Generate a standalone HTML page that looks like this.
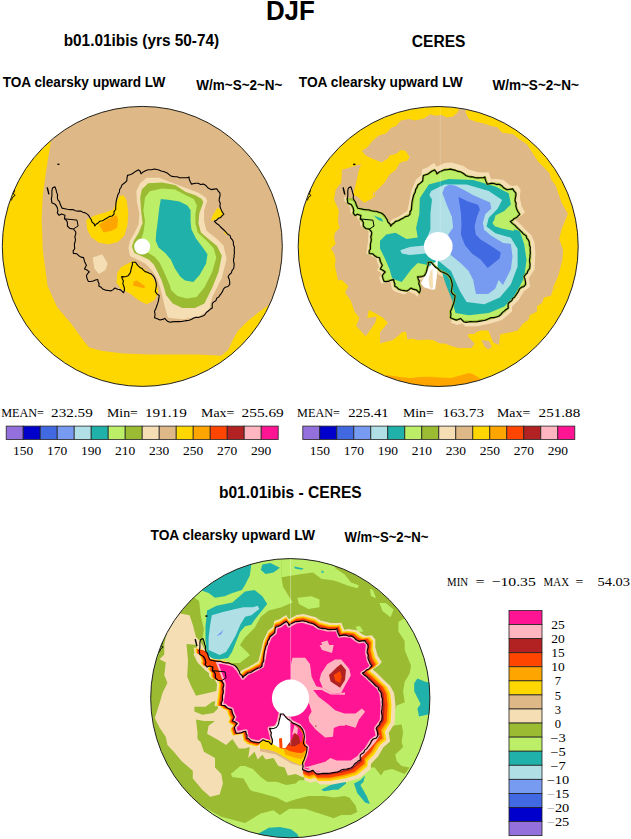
<!DOCTYPE html>
<html><head><meta charset="utf-8"><style>
html,body{margin:0;padding:0;background:#fff;width:631px;height:839px;overflow:hidden}
svg{display:block}
</style></head><body>
<svg width="631" height="839" viewBox="0 0 631 839">
<defs>
<clipPath id="cl"><circle cx="142.3" cy="246.4" r="140"/></clipPath>
<clipPath id="cr"><circle cx="438.2" cy="246.5" r="140"/></clipPath>
<clipPath id="cb"><circle cx="290.3" cy="698.2" r="139.6"/></clipPath>
</defs>
<g clip-path="url(#cl)">
<rect x="0" y="100" width="290" height="295" fill="#FFD700"/>
<path d="M51.0,141.6 48.7,154.7 46.4,168.9 42.8,195.1 41.6,218.9 42.8,250.0 47.5,285.7 57.0,307.0 71.3,323.7 83.2,340.3 89.1,347.5 102.2,351.0 123.6,353.4 150.0,354.6 197.5,354.6 221.3,355.8 228.4,349.8 232.0,341.5 238.0,330.8 247.5,321.3 259.3,311.8 290.0,290.0 290.0,90.0 30.0,90.0 30.0,130.0Z" fill="#DEB887" />
<path d="M86.3,219.7 95.8,215.0 105.4,212.6 113.3,209.4 116.5,202.3 119.6,196.0 123.6,195.2 126.8,200.7 128.3,213.4 127.5,224.5 124.4,235.6 118.0,241.9 108.5,244.3 99.0,242.7 91.1,237.2 87.1,229.2Z" fill="#FFD700" />
<path d="M99.0,224.5 106.9,219.7 116.5,215.0 118.0,219.7 117.2,227.7 111.7,230.8 103.8,232.4 100.6,227.7Z" fill="#FFA500" />
<path d="M127.5,263.8 133.8,260.7 141.4,267.3 150.9,274.0 155.7,282.5 157.7,288.0 158.4,292.3 154.5,300.2 146.6,304.2 138.6,300.2 130.7,293.9 121.2,289.1 116.5,282.8 117.2,273.3 121.2,266.9Z" fill="#FFD700" />
<path d="M133.8,281.6 137.1,280.6 145.7,286.8 143.3,288.2 132.9,285.4Z" fill="#FFA500" />
<path d="M92.7,257.4 102.2,254.3 107.7,263.8 105.4,270.1 99.0,274.1 94.3,268.5Z" fill="#F5DEB3" />
<path d="M217.5,207.8 222.3,211.0 223.1,215.8 214.4,219.7 211.2,221.3 212.0,216.6Z" fill="#FFD700" />
<path d="M224.5,230.5 227.0,233.0 226.5,235.0 224.0,232.5Z" fill="#FFD700" />
<path d="M146.6,177.7 159.2,177.7 170.0,182.0 185.8,188.0 198.5,192.8 205.7,197.5 207.2,200.7 204.1,210.2 204.1,221.3 206.5,230.8 217.0,239.0 223.5,245.5 226.6,259.0 221.8,278.0 212.3,297.1 209.1,309.7 199.6,316.1 183.8,319.2 167.9,317.7 164.8,306.6 162.0,295.0 160.4,288.2 157.6,279.7 153.8,273.0 149.0,267.3 145.2,263.5 137.6,259.7 130.0,255.9 128.5,248.0 130.0,240.7 133.9,234.0 138.6,224.5 139.4,213.4 137.0,202.3 136.3,191.2 140.2,183.3Z" fill="#F5DEB3" />
<path d="M148.1,183.3 162.4,182.5 175.0,185.0 185.8,192.0 195.4,195.2 201.7,199.1 203.3,202.3 199.3,213.4 198.5,222.9 200.9,232.4 210.0,240.3 217.0,246.0 221.8,255.8 218.6,271.7 212.3,287.5 204.4,303.4 194.9,308.1 182.2,308.1 172.7,303.4 166.0,295.0 164.2,288.2 161.4,279.7 157.6,272.1 153.8,264.5 149.0,259.7 142.4,256.4 134.3,253.1 131.9,246.4 133.8,240.7 138.6,233.0 142.6,222.9 141.0,210.2 140.2,197.5 141.8,189.6Z" fill="#9ABB32" />
<path d="M149.7,191.2 162.4,188.5 175.0,189.5 185.8,195.2 193.8,199.1 196.9,205.5 195.4,213.4 195.4,222.9 197.7,232.4 207.0,241.0 213.5,248.0 216.3,257.4 212.3,271.7 204.4,287.5 196.5,297.1 186.9,298.6 177.4,296.0 171.0,290.0 169.9,285.4 166.1,276.8 162.8,269.2 159.5,262.6 154.7,256.9 148.5,253.1 140.0,245.0 140.2,241.9 143.4,232.4 145.0,221.3 143.4,210.2 145.0,197.5Z" fill="#BCEE68" />
<path d="M160.8,199.1 170.0,200.0 179.5,201.5 187.4,205.5 190.6,210.2 190.6,221.3 191.4,229.2 196.1,238.7 202.0,246.5 207.5,254.3 206.0,263.8 199.6,274.9 193.3,282.0 185.1,280.6 180.4,276.8 174.7,268.3 170.9,259.7 165.2,253.1 158.5,247.4 155.7,240.7 156.1,234.0 157.7,221.3 159.2,208.6Z" fill="#20B2AA" />
<circle cx="142.2" cy="246.6" r="8" fill="#fff"/>
<path d="M54.9,186.7 56.0,189.6 56.7,192.6 57.6,194.9 57.3,197.4 57.9,199.8 59.6,201.9 60.3,204.6 62.0,208.1 64.7,208.7 67.4,209.3 70.1,209.6 72.9,209.6 75.4,210.7 78.1,211.1 80.7,211.1 82.9,212.2 85.3,212.9 87.3,214.1 88.8,215.7 90.0,217.7 91.3,219.7 92.0,222.1 94.1,223.7 94.8,226.0 96.1,224.2 98.1,223.0 99.6,221.3 102.7,220.7 105.4,218.9 107.6,217.8 109.7,216.4 112.2,216.0 114.1,214.2 114.0,211.7 115.7,209.5 115.7,207.0 115.9,204.4 116.1,201.9 116.6,199.3 117.3,196.9 118.0,194.4 119.4,192.2 119.6,189.5 121.1,187.3 122.0,184.9 124.5,183.0 126.8,180.9 127.0,178.1 127.5,175.4 129.9,174.7 132.3,173.8 135.5,171.4 138.6,169.8 140.3,171.5 141.0,173.8 143.1,171.9 145.5,170.8 148.1,169.8 151.3,169.7 154.5,169.0 156.7,169.5 159.0,170.0 161.1,171.0 163.4,171.5 165.6,172.2 168.0,173.6 170.0,175.4 172.3,176.4 174.7,176.8 177.2,176.8 179.5,177.7 182.1,177.8 184.8,177.7 187.4,177.7 189.0,176.9 189.3,179.5 190.3,181.8 191.4,184.1 195.4,183.3 198.1,183.3 200.6,184.5 203.3,184.1 206.0,185.6 208.0,188.0 211.2,189.6 214.0,189.1 216.8,188.8 218.1,191.0 219.9,192.8 220.1,195.5 219.4,198.1 219.1,200.7 220.3,203.2 219.9,206.0 220.7,208.6 222.0,211.6 223.9,214.2 222.2,215.7 220.7,217.4 218.3,218.3 216.6,220.2 214.4,221.3 216.6,223.5 219.1,225.3 220.6,227.0 222.2,228.5 223.9,230.0 225.5,231.6 227.5,234.0 230.2,235.6 230.7,238.0 232.4,239.8 233.4,241.9 233.4,244.6 234.5,247.2 234.2,250.0 234.5,252.7 234.1,254.9 234.1,257.2 233.5,259.4 233.6,261.7 234.2,264.0 234.0,266.3 233.7,268.5 232.1,270.4 231.4,272.9 229.5,274.5 228.1,276.5 229.1,279.0 229.7,281.7 229.7,284.4 228.0,286.5 225.3,287.2 223.4,289.1 222.6,291.4 221.3,293.3 219.9,295.2 218.6,297.1 216.7,298.3 215.9,300.7 213.9,301.9 212.3,303.4 212.2,305.8 212.3,308.1 210.1,309.3 208.2,311.0 206.3,312.5 204.9,314.7 202.8,316.1 200.6,316.8 198.4,317.5 196.0,317.4 193.7,318.0 191.7,319.2 189.3,320.2 186.7,320.6 184.1,321.0 181.6,321.5 179.0,321.6 176.8,321.6 174.6,321.5 172.3,321.9 170.1,322.3 167.9,321.6 166.3,320.1 164.8,318.4 162.5,319.4 160.0,320.0 157.3,318.8 154.5,317.7 155.1,314.5 154.5,311.3 155.8,308.8 156.7,306.0 157.7,303.4 158.4,300.8 158.9,298.2 159.2,295.5 156.8,293.9 155.3,291.5 156.1,287.5 156.4,284.8 156.0,282.2 155.3,279.6 154.4,277.5 153.0,275.7 151.3,274.1 149.3,273.2 147.3,272.2 145.1,271.6 143.4,270.1 142.0,268.4 139.8,267.4 138.2,265.8 136.8,264.1 135.5,262.2 132.3,262.2 132.4,264.5 131.7,266.8 131.1,269.0 130.7,271.5 129.8,273.7 128.2,275.7 126.1,276.5 123.9,276.9 121.6,276.6 122.3,278.8 123.4,281.0 122.8,283.6 123.7,285.8 124.4,288.0 124.4,290.5 123.5,292.8 120.6,289.9 117.6,289.3 114.9,288.0 113.1,289.6 111.1,290.9 108.2,290.5 105.3,290.1 102.6,289.0 101.0,287.2 98.8,286.1 99.1,283.8 98.1,281.7 97.8,279.5 95.4,280.0 93.2,281.0 90.8,281.5 88.3,281.4 87.1,278.6 86.4,275.7 87.6,273.6 89.3,271.9 87.1,270.1 84.5,269.0 86.4,265.2 84.5,261.4 83.6,257.6 81.0,257.1 78.8,255.7 76.9,253.8 73.4,253.4 73.1,250.9 74.7,248.7 74.5,246.3 74.4,243.8 75.2,241.5 75.4,239.1 74.8,236.7 75.7,234.4 75.8,232.0 73.4,229.0 69.8,228.4 67.4,226.0 67.4,222.4 66.4,220.2 64.4,218.9 65.0,215.3 61.5,214.1 59.1,215.3 57.3,212.9 57.9,210.5 57.2,207.4 55.5,204.6 51.9,202.8 51.3,198.6 51.9,196.2 51.9,193.8 51.9,190.8 52.5,187.9Z" fill="none" stroke="#000" stroke-width="1.1" stroke-linejoin="round"/>
<path d="M65.0,218.9 L77.0,220.1 L78.1,226.0 L73.4,229.0" fill="none" stroke="#000" stroke-width="1"/>
<path d="M47.2,187.3 L48.9,194.4" fill="none" stroke="#000" stroke-width="1.4"/>
<ellipse cx="58.4" cy="164.3" rx="1.3" ry="0.8" fill="#000"/>
<path d="M14.8,190.0 L13.3,194.0 L15.2,195.3 L12.8,197.0 L11.3,200.5" fill="none" stroke="#000" stroke-width="0.9"/>
</g>
<circle cx="142.3" cy="246.4" r="140" fill="none" stroke="#222" stroke-width="1"/>
<g clip-path="url(#cr)">
<rect x="290" y="100" width="300" height="295" fill="#FFD700"/>
<path d="M386.0,375.0 390.4,375.5 400.0,377.0 410.7,378.0 420.0,377.0 431.0,376.8 440.0,377.5 451.3,378.0 460.0,375.5 469.0,373.0 474.0,374.5 479.2,378.0 484.0,381.0 484.0,396.0 386.0,396.0Z" fill="#FFA500" />
<path d="M342.0,169.7 348.3,168.1 357.8,165.0 361.0,164.2 358.6,171.3 356.2,182.4 353.1,195.1 357.0,196.3 364.1,202.7 370.5,199.5 375.2,196.3 373.7,190.0 372.1,200.0 375.2,191.9 384.7,182.4 389.5,174.5 396.0,169.7 399.2,163.4 402.3,161.8 407.1,161.0 409.5,157.1 405.5,150.7 400.8,149.9 396.0,153.9 389.5,155.5 387.9,158.6 381.6,162.6 372.1,158.6 365.7,155.5 361.8,150.7 367.3,147.5 372.1,141.2 378.4,135.7 386.3,133.3 391.1,127.7 396.0,126.1 400.8,120.6 408.7,119.0 415.0,120.6 424.5,118.2 430.1,114.3 435.6,115.8 442.0,115.1 446.7,117.4 453.1,116.6 457.8,111.9 462.6,100.0 466.0,100.0 465.7,112.7 468.9,119.0 475.2,121.4 484.7,123.8 491.1,126.1 497.1,126.9 501.8,132.5 512.9,134.1 517.7,138.0 527.2,144.4 532.0,152.3 538.3,161.8 544.6,168.1 549.4,172.9 551.0,179.2 555.7,185.6 558.9,195.1 561.6,202.7 567.9,213.8 561.6,229.6 559.2,239.1 563.2,250.2 562.4,259.7 558.4,275.6 552.1,290.0 561.4,283.5 552.7,290.5 551.0,295.7 544.0,297.4 542.2,302.7 537.0,306.2 537.0,311.4 530.0,314.9 528.3,320.1 523.1,323.6 517.8,330.6 510.9,332.3 500.4,334.0 498.7,344.5 493.4,342.8 488.2,330.6 481.2,330.6 476.0,332.3 474.7,333.9 468.4,333.9 468.4,337.1 474.7,343.4 471.6,348.1 458.9,348.1 452.6,346.6 444.6,343.4 439.9,343.4 433.5,340.2 427.2,339.4 417.7,340.2 412.1,338.6 407.4,339.4 405.8,331.5 401.8,332.3 398.7,335.5 392.3,340.2 386.0,341.8 380.0,343.4 380.0,332.3 387.9,322.8 383.2,318.0 376.8,314.1 368.9,310.1 367.3,318.0 376.8,316.5 375.2,322.8 365.7,336.3 356.2,326.0 359.4,318.0 354.6,311.7 350.7,300.6 345.1,292.7 348.3,286.3 342.0,280.0 338.0,280.3 336.4,272.4 334.8,266.1 335.6,259.7 334.0,253.4 330.9,248.6 335.6,243.9 334.0,237.5 334.8,232.8 339.6,228.0 338.0,221.7 338.8,210.6 334.0,199.5 335.6,190.0 341.2,182.4Z" fill="#DEB887" />
<path d="M481.5,340.0 489.0,341.0 492.0,347.0 488.0,349.5 484.0,346.0Z" fill="#DEB887" />
<path d="M494.0,340.0 499.0,340.0 499.5,345.0 496.5,344.0Z" fill="#DEB887" />
<path d="M344.0,197.0 344.0,197.0 344.6,201.3 344.6,201.3 344.6,201.4 347.9,203.0 348.0,203.1 348.0,203.1 348.1,203.2 348.2,203.2 348.2,203.3 348.3,203.4 348.3,203.4 350.5,209.0 350.5,209.1 350.5,209.1 350.5,209.2 350.5,209.3 350.5,209.4 350.5,209.5 350.0,211.7 350.0,211.7 350.0,211.7 351.8,214.2 351.8,214.2 351.8,214.2 353.9,213.1 353.9,213.0 354.0,213.0 354.1,213.0 354.2,213.0 354.3,213.0 354.3,213.0 354.4,213.0 354.5,213.0 357.0,213.9 357.1,213.9 357.2,213.9 357.2,214.0 357.3,214.0 357.4,214.1 357.4,214.2 357.5,214.2 357.5,214.3 357.5,214.4 357.5,214.4 357.6,214.5 357.6,214.6 357.6,214.7 357.6,214.8 357.1,217.8 357.1,217.9 357.1,217.9 359.9,221.2 359.9,221.3 360.0,221.4 360.0,221.4 360.0,221.5 360.1,221.6 360.1,221.7 360.1,221.8 360.1,225.2 360.1,225.2 360.1,225.2 362.5,227.7 362.5,227.7 362.5,227.7 365.8,228.2 365.8,228.3 365.9,228.3 366.0,228.3 366.1,228.3 366.1,228.4 366.2,228.4 366.2,228.5 366.3,228.5 368.3,231.2 368.4,231.2 368.4,231.3 368.4,231.4 368.5,231.5 368.5,231.5 368.5,231.6 368.5,231.7 368.0,241.3 368.0,241.4 366.2,253.8 366.2,253.8 366.2,253.8 369.4,254.2 369.5,254.2 369.5,254.3 369.6,254.3 369.7,254.3 369.8,254.4 369.8,254.4 369.9,254.5 371.5,256.2 371.5,256.3 371.6,256.3 375.9,258.1 376.0,258.2 376.1,258.2 376.1,258.3 376.2,258.3 376.2,258.4 376.3,258.4 376.3,258.5 376.4,258.6 376.4,258.6 376.4,258.7 377.2,262.3 377.2,262.3 377.2,262.4 378.9,266.0 378.9,266.1 379.0,266.2 379.0,266.3 379.0,266.3 379.0,266.4 379.0,266.5 379.0,266.6 378.9,266.7 378.9,266.7 377.2,270.3 377.2,270.4 377.2,270.4 381.3,273.1 381.3,273.1 381.4,273.2 381.5,273.2 381.5,273.3 381.5,273.4 381.6,273.4 381.6,273.5 381.6,273.6 381.6,273.6 381.6,273.7 381.6,273.8 381.6,273.9 381.6,274.0 381.6,274.0 381.6,274.1 381.5,274.2 381.5,274.2 379.1,277.5 379.1,277.5 379.1,277.5 381.1,283.5 381.1,283.5 381.1,283.5 389.8,282.0 389.9,282.0 390.0,282.0 390.1,282.0 390.2,282.0 390.2,282.0 390.3,282.1 390.4,282.1 390.4,282.2 390.5,282.2 390.6,282.3 390.6,282.3 390.7,282.4 390.7,282.4 390.7,282.5 390.8,282.6 390.8,282.7 391.8,288.8 391.8,288.9 391.8,288.9 395.7,292.0 395.7,292.1 395.8,292.1 404.6,294.5 404.6,294.5 404.6,294.4 408.1,291.9 408.2,291.9 408.2,291.8 408.3,291.8 408.4,291.8 408.5,291.8 408.6,291.8 408.6,291.8 408.7,291.8 408.8,291.8 408.9,291.8 414.4,293.9 414.4,293.9 414.5,294.0 414.6,294.0 414.7,294.1 417.7,297.1 417.7,297.1 417.7,297.1 418.5,292.2 418.5,292.2 418.5,292.2 415.4,281.2 415.4,281.1 415.4,281.0 415.3,280.9 415.4,280.8 415.4,280.8 415.4,280.7 415.4,280.6 415.5,280.5 415.5,280.5 415.5,280.4 415.6,280.4 415.7,280.3 415.7,280.3 415.8,280.2 415.9,280.2 415.9,280.2 416.0,280.1 416.1,280.1 422.2,279.8 422.2,279.8 422.2,279.8 425.0,273.1 425.0,273.1 425.0,273.0 425.8,266.7 425.8,266.6 425.8,266.6 425.9,266.5 425.9,266.4 426.0,266.4 426.0,266.3 426.1,266.2 426.1,266.2 426.2,266.1 426.3,266.1 426.3,266.1 426.4,266.0 426.5,266.0 426.6,266.0 426.6,266.0 426.7,266.0 429.4,266.4 429.5,266.4 429.5,266.4 429.6,266.5 429.7,266.5 429.7,266.5 429.8,266.6 439.5,275.2 439.5,275.2 439.6,275.2 448.6,278.9 448.6,278.9 448.7,279.0 448.8,279.0 448.8,279.1 448.9,279.1 452.9,284.2 452.9,284.2 453.0,284.3 453.0,284.4 453.0,284.4 453.0,284.5 453.0,284.6 453.6,292.2 453.6,292.3 453.6,292.4 453.6,292.5 452.6,296.4 452.6,296.4 452.6,296.4 456.4,300.0 456.4,300.1 456.5,300.1 456.5,300.2 456.6,300.3 456.6,300.3 456.6,300.4 456.6,300.5 456.6,300.5 456.6,300.6 456.6,300.7 456.6,300.8 454.9,308.2 454.9,308.3 454.9,308.4 451.3,316.3 451.3,316.3 451.3,316.3 451.2,322.7 451.2,322.7 451.3,322.7 457.1,325.0 457.1,325.0 457.1,325.0 461.7,323.4 461.8,323.4 461.9,323.4 462.0,323.4 462.0,323.4 462.1,323.4 462.2,323.4 462.3,323.4 462.3,323.5 462.4,323.5 462.5,323.6 462.5,323.6 465.4,326.4 465.4,326.4 465.4,326.4 477.1,326.2 477.1,326.2 477.1,326.2 490.4,323.4 490.4,323.4 502.0,320.0 502.0,320.0 502.0,320.0 511.9,311.5 512.0,311.5 512.0,311.5 512.1,307.0 512.1,306.9 512.1,306.8 512.1,306.8 512.1,306.7 512.2,306.6 512.2,306.5 512.2,306.5 512.3,306.4 518.6,300.0 518.7,300.0 518.7,299.9 523.6,291.7 523.7,291.6 523.7,291.5 523.8,291.5 523.8,291.4 530.2,286.5 530.2,286.5 530.2,286.5 528.8,278.6 528.8,278.5 528.8,278.4 528.8,278.3 528.8,278.3 528.8,278.2 528.8,278.1 528.9,278.1 528.9,278.0 534.4,269.8 534.5,269.8 534.5,269.8 535.4,253.2 535.4,253.1 535.4,253.1 535.1,250.3 535.1,250.3 534.4,241.8 534.4,241.8 534.3,241.7 531.2,235.1 531.2,235.1 531.2,235.1 526.6,230.8 526.5,230.8 520.2,224.0 520.1,224.0 516.2,220.3 516.1,220.3 516.1,220.2 516.0,220.1 516.0,220.1 516.0,220.0 516.0,219.9 515.9,219.9 515.9,219.8 515.9,219.7 515.9,219.6 516.0,219.5 516.0,219.5 516.0,219.4 516.0,219.3 516.1,219.3 516.1,219.2 516.2,219.2 516.2,219.1 516.3,219.1 521.7,215.6 521.7,215.6 521.7,215.6 524.9,212.3 524.9,212.3 524.9,212.3 521.7,206.4 521.6,206.3 521.6,206.2 521.6,206.2 519.9,198.0 519.9,197.9 519.9,197.9 519.9,197.8 520.5,189.6 520.5,189.6 520.5,189.6 517.3,185.3 517.3,185.3 517.3,185.3 511.9,185.9 511.8,185.9 511.7,185.9 511.6,185.9 511.6,185.9 511.5,185.9 511.4,185.8 508.4,184.2 508.3,184.2 508.3,184.1 503.4,179.9 503.4,179.9 503.4,179.9 495.3,178.7 495.2,178.7 495.2,178.7 491.8,179.3 491.7,179.3 491.6,179.3 491.5,179.3 491.4,179.3 491.4,179.2 491.3,179.2 491.2,179.2 491.2,179.1 491.1,179.1 491.0,179.0 491.0,179.0 491.0,178.9 490.9,178.8 490.9,178.7 488.4,171.8 488.4,171.8 488.4,171.8 486.9,172.5 486.8,172.5 486.8,172.5 486.7,172.6 486.6,172.6 486.5,172.6 478.5,172.2 478.4,172.2 478.3,172.2 468.4,169.5 468.3,169.4 468.3,169.4 468.2,169.4 468.2,169.3 463.5,166.0 463.5,166.0 463.5,166.0 451.5,162.4 451.5,162.4 451.4,162.4 444.5,163.0 444.5,163.0 444.5,163.0 437.4,166.6 437.3,166.7 437.3,166.7 437.2,166.7 437.1,166.7 437.0,166.7 437.0,166.7 436.9,166.7 436.8,166.7 436.7,166.7 436.7,166.6 436.6,166.6 436.5,166.6 436.5,166.5 436.4,166.4 436.4,166.4 434.2,163.1 434.2,163.1 434.2,163.1 430.8,164.9 430.8,164.9 430.8,164.9 427.4,167.4 427.3,167.5 427.3,167.5 427.2,167.5 422.1,169.4 422.1,169.4 422.1,169.4 421.3,174.8 421.3,174.8 421.3,174.9 421.3,175.0 421.2,175.1 421.2,175.1 421.1,175.2 421.1,175.2 416.1,179.5 416.1,179.5 416.1,179.5 411.7,189.7 411.6,189.7 411.6,189.7 409.0,203.2 409.0,203.2 407.3,210.8 407.2,210.9 407.2,210.9 407.2,211.0 407.1,211.1 407.1,211.1 407.0,211.2 407.0,211.2 406.9,211.3 398.3,216.7 398.2,216.7 392.3,219.5 392.3,219.5 392.3,219.6 388.2,223.9 388.2,224.0 388.1,224.0 388.0,224.1 388.0,224.1 387.9,224.1 387.8,224.1 387.7,224.2 387.7,224.2 387.6,224.2 387.5,224.1 387.4,224.1 387.3,224.1 387.3,224.1 387.2,224.0 387.1,224.0 387.1,223.9 387.0,223.9 387.0,223.8 386.9,223.7 382.7,216.1 382.7,216.0 382.7,216.0 378.0,211.2 378.0,211.1 378.0,211.1 370.8,209.4 370.8,209.4 360.1,207.8 360.1,207.8 355.1,206.7 355.0,206.7 354.9,206.7 354.8,206.7 354.8,206.6 354.7,206.6 354.6,206.5 354.6,206.4 354.6,206.4 354.5,206.3 353.0,203.1 353.0,203.1 350.6,198.2 350.6,198.1 350.6,198.1 344.0,197.0Z" fill="#F5DEB3"/>
<path d="M353.8,199.9 356.2,204.7 357.9,208.2 363.3,209.4 374.0,211.2 381.2,213.0 385.9,217.8 390.7,226.1 395.5,221.4 401.3,219.0 410.0,214.3 411.6,207.1 413.9,194.5 417.9,185.0 422.7,181.0 423.4,175.5 428.2,173.9 431.4,171.5 434.5,169.9 436.9,173.9 444.0,169.9 450.4,169.1 461.5,172.3 465.9,175.5 475.4,177.8 483.3,177.8 484.9,177.0 487.3,184.2 491.3,183.4 499.2,184.2 503.9,188.1 507.1,189.7 512.7,188.9 515.8,192.9 515.0,200.8 516.6,208.7 519.8,214.3 516.6,217.5 510.3,221.4 515.0,225.4 521.4,231.7 526.1,235.7 529.3,242.0 530.1,250.1 530.4,252.8 529.6,268.6 524.0,276.6 525.6,284.5 519.3,289.2 514.5,297.2 508.2,303.5 508.2,308.2 498.7,316.2 487.6,319.3 474.9,321.7 463.8,321.7 460.7,318.5 455.9,320.1 450.4,317.8 450.4,311.4 453.6,303.5 455.1,295.6 451.2,291.6 452.0,287.6 451.2,279.7 447.2,274.2 439.3,270.2 431.4,262.3 428.2,262.3 427.0,269.1 424.1,275.8 417.5,276.7 420.3,288.1 419.4,292.9 416.5,290.0 410.8,288.1 407.0,291.0 398.5,289.1 394.7,286.2 393.7,279.6 384.2,281.5 382.3,275.8 385.2,272.0 380.4,269.1 382.3,265.3 380.4,261.5 379.5,257.7 374.7,255.8 372.8,253.9 369.3,253.5 371.1,241.6 371.7,232.1 369.3,229.1 365.7,228.5 363.3,226.1 363.3,222.5 360.3,219.0 360.9,215.4 357.4,214.2 355.0,215.4 353.2,213.0 353.8,210.6 351.4,204.7 347.8,202.9 347.2,198.7Z" fill="#BCEE68" />
<path d="M419.8,198.3 428.8,184.4 448.8,178.9 473.2,180.0 495.4,186.6 508.7,193.3 510.9,204.4 504.3,211.0 495.4,215.5 493.2,224.3 504.3,226.6 519.8,231.0 524.2,244.3 526.5,259.8 524.2,277.6 515.4,295.3 504.3,306.4 488.8,313.1 468.8,315.3 455.5,313.1 452.0,300.0 446.0,285.0 441.5,270.8 425.6,264.5 417.7,262.9 411.4,269.2 401.8,281.9 392.3,278.7 389.5,269.2 384.7,258.1 380.0,248.6 380.0,240.7 386.3,234.4 395.5,232.8 406.6,239.1 417.7,237.5 416.1,228.0 419.3,213.8Z" fill="#20B2AA" />
<path d="M373.7,215.4 381.6,218.5 383.2,221.7 378.4,220.1Z" fill="#20B2AA" />
<path d="M492.4,222.7 497.2,216.7 504.4,212.0 512.0,210.0 514.0,231.0 502.0,228.6 494.8,226.3Z" fill="#BCEE68" />
<path d="M429.3,195.1 431.1,191.1 444.4,184.4 466.6,184.4 488.8,191.1 502.1,199.9 497.6,208.8 488.8,217.7 486.5,226.6 495.4,233.2 510.9,237.7 517.6,248.8 517.6,266.5 510.9,284.3 499.8,297.6 484.3,304.2 466.6,302.0 459.9,290.9 451.0,270.9 439.9,262.0 432.0,258.0 425.6,253.4 409.8,255.0 401.8,253.4 400.3,250.2 409.8,247.1 424.0,245.5 430.4,229.6 430.4,213.8 432.0,199.5Z" fill="#B0E0E6" />
<path d="M442.4,192.9 444.8,186.9 449.5,184.5 455.5,185.7 465.0,190.5 473.4,195.3 490.1,202.4 491.3,208.4 485.3,214.3 482.9,222.7 484.1,229.8 491.3,235.8 503.2,242.9 510.9,243.9 512.5,256.6 510.9,269.2 503.0,285.1 498.7,280.0 495.2,288.7 488.2,293.9 476.0,293.9 474.7,287.9 473.2,280.0 468.4,270.8 460.5,262.9 452.6,256.6 450.7,254.9 448.3,234.6 453.1,227.4 451.9,216.7 447.2,206.0Z" fill="#789BF2" />
<path d="M458.5,197.0 467.4,201.2 478.1,204.8 479.9,209.6 476.9,216.7 474.6,226.3 475.8,234.6 480.5,239.4 490.0,245.3 500.8,252.5 499.6,258.4 487.7,268.0 480.5,259.6 472.2,253.7 465.0,245.3 460.9,234.6 461.5,225.1 460.9,213.1Z" fill="#4169E1" />
<circle cx="438.3" cy="246.3" r="14.3" fill="#fff"/>
<path d="M435.8,255.0 438.0,255.0 437.5,268.2 436.7,277.7 435.1,289.6 431.1,289.6 424.0,287.2 420.9,283.3 428.8,267.4 432.0,263.5 435.8,262.0Z" fill="#FFFFFF" />
<path d="M430.5,271.0 432.5,269.0 433.0,288.0 430.0,289.0 428.5,280.0Z" fill="#F5DEB3" />
<path d="M353.8,199.9 356.2,204.7 357.9,208.2 363.3,209.4 374.0,211.2 381.2,213.0 385.9,217.8 390.7,226.1 395.5,221.4 401.3,219.0 410.0,214.3 411.6,207.1 413.9,194.5 417.9,185.0 422.7,181.0 423.4,175.5 428.2,173.9 431.4,171.5 434.5,169.9 436.9,173.9 444.0,169.9 450.4,169.1 461.5,172.3 465.9,175.5 475.4,177.8 483.3,177.8 484.9,177.0 487.3,184.2 491.3,183.4 499.2,184.2 503.9,188.1 507.1,189.7 512.7,188.9 515.8,192.9 515.0,200.8 516.6,208.7 519.8,214.3 516.6,217.5 510.3,221.4 515.0,225.4 521.4,231.7 526.1,235.7 529.3,242.0 530.1,250.1 530.4,252.8 529.6,268.6 524.0,276.6 525.6,284.5 519.3,289.2 514.5,297.2 508.2,303.5 508.2,308.2 498.7,316.2 487.6,319.3 474.9,321.7 463.8,321.7 460.7,318.5 455.9,320.1 450.4,317.8 450.4,311.4 453.6,303.5 455.1,295.6 451.2,291.6 452.0,287.6 451.2,279.7 447.2,274.2 439.3,270.2 431.4,262.3 428.2,262.3 427.0,269.1 424.1,275.8 417.5,276.7 420.3,288.1 419.4,292.9 416.5,290.0 410.8,288.1 407.0,291.0 398.5,289.1 394.7,286.2 393.7,279.6 384.2,281.5 382.3,275.8 385.2,272.0 380.4,269.1 382.3,265.3 380.4,261.5 379.5,257.7 374.7,255.8 372.8,253.9 369.3,253.5 371.1,241.6 371.7,232.1 369.3,229.1 365.7,228.5 363.3,226.1 363.3,222.5 360.3,219.0 360.9,215.4 357.4,214.2 355.0,215.4 353.2,213.0 353.8,210.6 351.4,204.7 347.8,202.9 347.2,198.7Z" fill="none" stroke="#9ABB32" stroke-width="2.2" stroke-linejoin="round"/>
<path d="M350.8,186.8 351.9,189.7 352.6,192.7 353.5,195.0 353.2,197.5 353.8,199.9 355.5,202.0 356.2,204.7 357.9,208.2 360.6,208.8 363.3,209.4 366.0,209.7 368.8,209.7 371.3,210.8 374.0,211.2 376.6,211.2 378.8,212.3 381.2,213.0 383.2,214.2 384.7,215.8 385.9,217.8 387.2,219.8 387.9,222.2 390.0,223.8 390.7,226.1 392.0,224.3 394.0,223.1 395.5,221.4 398.6,220.8 401.3,219.0 403.5,217.9 405.6,216.5 408.1,216.1 410.0,214.3 409.9,211.8 411.6,209.6 411.6,207.1 411.8,204.5 412.0,202.0 412.5,199.4 413.2,197.0 413.9,194.5 415.3,192.3 415.5,189.6 417.0,187.4 417.9,185.0 420.4,183.1 422.7,181.0 422.9,178.2 423.4,175.5 425.8,174.8 428.2,173.9 431.4,171.5 434.5,169.9 436.2,171.6 436.9,173.9 439.0,172.0 441.4,170.9 444.0,169.9 447.2,169.8 450.4,169.1 452.6,169.6 454.9,170.1 457.0,171.1 459.3,171.6 461.5,172.3 463.9,173.7 465.9,175.5 468.2,176.5 470.6,176.9 473.1,176.9 475.4,177.8 478.0,177.9 480.7,177.8 483.3,177.8 484.9,177.0 485.2,179.6 486.2,181.9 487.3,184.2 491.3,183.4 494.0,183.4 496.5,184.6 499.2,184.2 501.9,185.7 503.9,188.1 507.1,189.7 509.9,189.2 512.7,188.9 514.0,191.1 515.8,192.9 516.0,195.6 515.3,198.2 515.0,200.8 516.2,203.3 515.8,206.1 516.6,208.7 517.9,211.7 519.8,214.3 518.1,215.8 516.6,217.5 514.2,218.4 512.5,220.3 510.3,221.4 512.5,223.6 515.0,225.4 516.5,227.1 518.1,228.6 519.8,230.1 521.4,231.7 523.4,234.1 526.1,235.7 526.6,238.1 528.3,239.9 529.3,242.0 529.3,244.7 530.4,247.3 530.1,250.1 530.4,252.8 530.0,255.0 530.0,257.3 529.4,259.5 529.5,261.8 530.1,264.1 529.9,266.4 529.6,268.6 528.0,270.5 527.3,273.0 525.4,274.6 524.0,276.6 525.0,279.1 525.6,281.8 525.6,284.5 523.9,286.6 521.2,287.3 519.3,289.2 518.5,291.5 517.2,293.4 515.8,295.3 514.5,297.2 512.6,298.4 511.8,300.8 509.8,302.0 508.2,303.5 508.1,305.9 508.2,308.2 506.0,309.4 504.1,311.1 502.2,312.6 500.8,314.8 498.7,316.2 496.5,316.9 494.3,317.6 491.9,317.5 489.6,318.1 487.6,319.3 485.2,320.3 482.6,320.7 480.0,321.1 477.5,321.6 474.9,321.7 472.7,321.7 470.5,321.6 468.2,322.0 466.0,322.4 463.8,321.7 462.2,320.2 460.7,318.5 458.4,319.5 455.9,320.1 453.2,318.9 450.4,317.8 451.0,314.6 450.4,311.4 451.7,308.9 452.6,306.1 453.6,303.5 454.3,300.9 454.8,298.3 455.1,295.6 452.7,294.0 451.2,291.6 452.0,287.6 452.3,284.9 451.9,282.3 451.2,279.7 450.3,277.6 448.9,275.8 447.2,274.2 445.2,273.3 443.2,272.3 441.0,271.7 439.3,270.2 437.9,268.5 435.7,267.5 434.1,265.9 432.7,264.2 431.4,262.3 428.2,262.3 428.3,264.6 427.6,266.9 427.0,269.1 426.6,271.6 425.7,273.8 424.1,275.8 422.0,276.6 419.8,277.0 417.5,276.7 418.2,278.9 419.3,281.1 418.7,283.7 419.6,285.9 420.3,288.1 420.3,290.6 419.4,292.9 416.5,290.0 413.5,289.4 410.8,288.1 409.0,289.7 407.0,291.0 404.1,290.6 401.2,290.2 398.5,289.1 396.9,287.3 394.7,286.2 395.0,283.9 394.0,281.8 393.7,279.6 391.3,280.1 389.1,281.1 386.7,281.6 384.2,281.5 383.0,278.7 382.3,275.8 383.5,273.7 385.2,272.0 383.0,270.2 380.4,269.1 382.3,265.3 380.4,261.5 379.5,257.7 376.9,257.2 374.7,255.8 372.8,253.9 369.3,253.5 369.0,251.0 370.6,248.8 370.4,246.4 370.3,243.9 371.1,241.6 371.3,239.2 370.7,236.8 371.6,234.5 371.7,232.1 369.3,229.1 365.7,228.5 363.3,226.1 363.3,222.5 362.3,220.3 360.3,219.0 360.9,215.4 357.4,214.2 355.0,215.4 353.2,213.0 353.8,210.6 353.1,207.5 351.4,204.7 347.8,202.9 347.2,198.7 347.8,196.3 347.8,193.9 347.8,190.9 348.4,188.0Z" fill="none" stroke="#000" stroke-width="1.1" stroke-linejoin="round"/>
<path d="M360.9,219.0 L372.9,220.2 L374.0,226.1 L369.3,229.1" fill="none" stroke="#000" stroke-width="1"/>
<path d="M343.1,187.4 L344.8,194.5" fill="none" stroke="#000" stroke-width="1.4"/>
<ellipse cx="354.3" cy="164.4" rx="1.3" ry="0.8" fill="#000"/>
<path d="M310.7,190.1 L309.2,194.1 L311.1,195.4 L308.7,197.1 L307.2,200.6" fill="none" stroke="#000" stroke-width="0.9"/>
<line x1="440.3" y1="104" x2="440.3" y2="231" stroke="#fff" stroke-opacity="0.25" stroke-width="0.8"/>
</g>
<circle cx="438.2" cy="246.5" r="140" fill="none" stroke="#222" stroke-width="1"/>
<g clip-path="url(#cb)">
<rect x="145" y="550" width="295" height="295" fill="#9ABB32"/>
<path d="M173.8,618.4 180.1,613.6 189.6,615.2 192.8,624.7 196.0,637.0 200.0,641.0 205.0,650.0 225.0,670.0 235.0,700.0 260.0,720.0 300.0,740.0 310.0,778.0 302.1,777.0 295.7,773.9 287.8,775.5 284.6,767.5 278.3,766.0 273.5,758.0 265.6,759.6 262.4,754.8 257.7,759.6 254.5,751.7 248.2,758.0 249.8,746.9 245.0,748.5 238.7,748.5 232.4,739.0 226.1,745.0 218.1,740.1 207.1,733.7 208.6,725.8 215.0,721.1 203.9,721.1 196.0,719.5 197.5,732.2 197.5,739.0 200.7,742.2 203.9,751.7 215.0,758.0 215.0,767.5 221.3,773.9 222.9,783.4 219.7,794.5 210.2,796.8 202.3,789.7 192.8,778.6 192.8,770.7 181.7,761.2 173.8,751.7 167.4,745.0 165.8,736.9 159.5,727.4 154.8,717.9 159.5,703.6 162.7,692.5 167.4,683.0 164.3,675.1 165.8,662.4 159.5,659.3 164.3,654.5 164.3,643.7 167.4,631.1Z" fill="#F5DEB3" />
<path d="M186.5,644.0 197.5,645.0 193.6,654.5 197.5,662.4 205.5,670.4 213.4,676.7 218.1,686.2 216.6,691.0 196.0,695.7 191.2,686.2 187.2,676.7 188.0,660.8Z" fill="#9ABB32" />
<path d="M194.4,706.8 205.5,706.8 211.8,702.1 216.6,700.5 218.1,708.4 213.4,713.1 202.3,714.7 194.4,711.6Z" fill="#9ABB32" />
<path d="M180.0,570.0 282.0,550.0 281.5,577.2 283.0,586.7 287.8,594.6 292.5,602.5 281.5,607.3 268.8,610.5 260.8,616.8 254.5,627.9 248.2,634.2 245.0,637.4 240.0,645.0 250.0,655.0 240.0,663.0 225.0,663.0 212.0,657.0 205.0,645.0 202.3,639.0 203.9,629.5 200.7,615.2 199.1,601.0 194.4,597.8 170.0,590.0Z" fill="#BCEE68" />
<path d="M282.0,550.0 281.5,577.2 292.5,575.6 302.1,574.0 313.1,572.4 321.1,578.8 333.7,580.4 345.0,581.9 347.7,585.6 357.2,588.0 358.8,585.6 350.8,582.4 344.5,574.5 335.0,568.2 340.0,550.0Z" fill="#BCEE68" />
<path d="M297.3,597.8 311.6,596.2 319.5,599.4 319.5,607.3 308.4,608.9 298.9,604.1Z" fill="#BCEE68" />
<path d="M330.0,560.0 335.0,568.2 344.5,574.5 350.8,582.4 358.8,585.6 357.2,588.0 347.7,585.6 335.0,580.8 325.0,575.0Z" fill="#BCEE68" />
<path d="M273.5,588.3 276.7,593.0 274.0,593.5Z" fill="#BCEE68" />
<path d="M369.9,588.8 373.0,590.0 376.2,598.3 371.0,596.0Z" fill="#BCEE68" />
<path d="M379.4,603.0 385.7,603.0 393.6,609.4 390.5,617.3 382.5,611.0Z" fill="#BCEE68" />
<path d="M355.6,626.8 360.0,626.0 363.5,631.6 358.0,632.0Z" fill="#BCEE68" />
<path d="M398.4,622.1 403.1,618.9 460.0,600.0 460.0,800.0 300.0,860.0 190.0,830.0 203.9,807.1 221.3,816.7 245.0,823.0 260.8,813.5 273.5,810.3 279.9,815.1 289.4,808.7 305.2,808.7 314.7,811.9 324.2,815.1 333.7,818.2 341.3,815.1 350.8,815.1 357.2,811.9 355.6,805.6 349.3,797.6 344.5,796.1 333.7,797.6 324.2,796.1 308.4,796.1 295.7,799.2 286.2,802.4 276.7,797.6 260.8,792.9 252.9,791.3 250.0,789.7 243.5,778.6 232.4,777.0 230.8,773.9 240.3,766.0 245.0,766.0 252.9,769.1 260.8,777.0 267.2,781.8 276.7,781.8 286.2,785.0 295.7,783.4 298.9,780.2 305.2,780.2 308.4,778.6 324.2,781.8 335.0,777.0 354.0,775.5 366.7,767.5 374.6,767.5 381.0,775.5 384.1,770.7 392.1,769.1 404.7,773.9 409.5,767.5 401.6,766.0 396.8,761.2 395.2,754.8 403.1,746.9 401.6,741.9 403.1,732.4 401.6,724.5 390.5,726.1 392.1,718.1 396.8,705.5 404.7,702.3 403.1,691.2 404.7,681.7 409.5,673.8 411.1,665.8 404.7,650.0 404.7,641.1 398.4,631.6Z" fill="#BCEE68" />
<path d="M205.0,570.0 250.0,555.0 251.3,564.5 249.8,575.6 245.0,585.1 241.9,589.9 232.4,593.0 224.5,596.2 215.0,597.8 208.6,593.0 200.0,590.0Z" fill="#20B2AA" />
<path d="M207.1,610.5 216.6,605.7 232.4,602.5 245.0,591.5 254.5,589.9 262.4,596.2 267.2,604.1 260.8,612.1 254.5,620.0 251.3,624.7 245.0,626.3 240.0,632.0 236.0,642.0 232.0,652.0 228.0,658.0 215.0,660.0 207.1,655.0 205.5,640.6 205.5,626.3Z" fill="#20B2AA" />
<path d="M211.8,615.2 222.9,612.1 235.6,608.9 243.5,607.3 252.9,607.3 257.7,605.7 259.3,608.9 251.3,615.2 245.1,616.8 240.3,624.7 235.6,635.8 229.2,646.9 226.0,652.0 219.7,655.0 208.6,650.1 208.6,637.4 210.2,624.7Z" fill="#B0E0E6" />
<path d="M216.5,636.0 223.7,629.5 221.0,634.5Z" fill="#789BF2" />
<path d="M262.4,564.5 270.4,562.9 279.9,567.7 273.5,572.4 265.6,574.0 260.8,570.1Z" fill="#20B2AA" />
<path d="M294.1,566.5 303.6,568.5 302.0,569.8 295.0,568.5Z" fill="#20B2AA" />
<path d="M321.9,570.1 324.2,572.4 321.5,573.0Z" fill="#20B2AA" />
<path d="M417.4,678.5 425.3,681.7 432.0,683.3 432.0,713.4 419.0,716.6 417.4,708.6 420.6,703.9 414.2,691.2 414.2,683.3Z" fill="#20B2AA" />
<path d="M250.0,845.0 257.7,834.1 268.8,827.7 279.9,827.0 291.0,829.3 297.3,834.1 298.9,837.3 296.0,845.0Z" fill="#20B2AA" />
<path d="M321.1,789.7 330.6,785.0 340.1,780.2 345.0,778.6 346.1,783.4 338.2,789.7 333.7,789.7 324.2,791.3Z" fill="#20B2AA" />
<path d="M354.0,783.4 360.4,780.2 365.1,775.5 363.5,781.8 360.4,785.0 366.7,796.1 369.9,804.0 365.1,802.4 357.2,792.9Z" fill="#20B2AA" />
<path d="M193.6,647.4 193.6,647.4 194.1,651.8 194.1,651.8 194.1,651.8 197.5,653.5 197.5,653.5 197.6,653.6 197.6,653.6 197.7,653.6 197.7,653.7 197.7,653.7 197.8,653.8 197.8,653.8 199.9,659.6 199.9,659.6 199.9,659.7 199.9,659.8 199.9,659.8 199.9,659.9 199.9,659.9 199.2,662.3 199.2,662.3 199.2,662.3 201.0,664.8 201.0,664.8 201.0,664.8 203.2,663.6 203.3,663.6 203.3,663.6 203.4,663.5 203.5,663.5 203.5,663.5 203.6,663.5 203.6,663.5 203.7,663.6 206.5,664.5 206.5,664.5 206.6,664.5 206.6,664.6 206.7,664.6 206.7,664.7 206.7,664.7 206.8,664.7 206.8,664.8 206.8,664.8 206.8,664.9 206.9,665.0 206.9,665.0 206.9,665.1 206.9,665.1 206.9,665.2 206.2,668.5 206.2,668.5 206.2,668.5 209.0,672.0 209.0,672.1 209.0,672.1 209.1,672.2 209.1,672.2 209.1,672.3 209.1,672.3 209.1,672.4 209.0,676.0 209.0,676.0 209.0,676.1 211.3,678.6 211.3,678.6 211.3,678.6 214.7,679.1 214.7,679.1 214.8,679.2 214.8,679.2 214.9,679.2 214.9,679.2 215.0,679.3 215.0,679.3 215.1,679.4 217.1,682.2 217.1,682.2 217.2,682.3 217.2,682.4 217.2,682.4 217.2,682.5 217.2,682.5 217.2,682.6 216.3,692.8 216.3,692.8 214.6,705.9 214.6,705.9 214.6,705.9 217.9,706.3 217.9,706.4 218.0,706.4 218.0,706.4 218.1,706.4 218.1,706.5 218.2,706.5 218.2,706.5 220.0,708.5 220.1,708.5 220.1,708.5 224.7,710.5 224.7,710.6 224.8,710.6 224.8,710.6 224.9,710.7 224.9,710.7 225.0,710.8 225.0,710.8 225.0,710.9 225.0,710.9 226.0,714.9 226.0,714.9 226.0,714.9 228.0,718.9 228.1,718.9 228.1,719.0 228.1,719.0 228.1,719.1 228.1,719.1 228.1,719.2 228.1,719.2 228.1,719.3 228.0,719.4 226.4,723.2 226.4,723.2 226.4,723.2 231.0,726.2 231.0,726.2 231.1,726.2 231.1,726.3 231.2,726.3 231.2,726.4 231.2,726.4 231.2,726.5 231.3,726.5 231.3,726.6 231.3,726.7 231.3,726.7 231.2,726.8 231.2,726.8 231.2,726.9 231.2,726.9 231.2,727.0 228.8,730.5 228.7,730.5 228.7,730.5 231.0,736.6 231.0,736.6 231.1,736.6 240.3,735.1 240.3,735.1 240.4,735.1 240.4,735.1 240.5,735.1 240.6,735.1 240.6,735.1 240.7,735.2 240.7,735.2 240.8,735.2 240.8,735.3 240.8,735.3 240.9,735.3 240.9,735.4 240.9,735.4 240.9,735.5 241.0,735.6 242.3,742.0 242.3,742.0 242.3,742.0 246.4,745.3 246.4,745.3 246.4,745.3 255.1,748.3 255.1,748.3 255.2,748.3 258.7,745.9 258.8,745.8 258.8,745.8 258.9,745.8 259.0,745.8 259.0,745.8 259.1,745.8 259.1,745.8 259.2,745.8 259.2,745.8 259.3,745.8 259.3,745.8 265.1,748.5 265.1,748.5 265.2,748.5 265.2,748.6 265.3,748.6 268.5,752.0 268.5,752.0 268.5,752.0 269.3,747.1 269.3,747.1 269.3,747.1 265.9,734.9 265.9,734.9 265.9,734.8 265.9,734.7 265.9,734.7 265.9,734.6 265.9,734.6 265.9,734.5 266.0,734.5 266.0,734.4 266.0,734.4 266.1,734.3 266.1,734.3 266.2,734.2 266.2,734.2 266.3,734.2 266.3,734.2 266.4,734.2 266.4,734.2 266.5,734.2 272.8,734.5 272.9,734.5 272.9,734.4 275.7,727.7 275.7,727.7 275.7,727.6 276.4,720.8 276.4,720.7 276.4,720.6 276.5,720.6 276.5,720.5 276.5,720.5 276.5,720.4 276.6,720.4 276.6,720.4 276.7,720.3 276.7,720.3 276.8,720.3 276.8,720.2 276.9,720.2 277.0,720.2 277.0,720.2 277.1,720.2 277.1,720.2 277.2,720.3 280.2,721.2 280.3,721.3 280.4,721.3 280.4,721.3 280.5,721.4 291.9,732.1 291.9,732.1 291.9,732.1 302.8,736.9 302.8,736.9 302.9,736.9 302.9,737.0 302.9,737.0 303.0,737.0 307.5,742.3 307.5,742.4 307.6,742.4 307.6,742.5 307.6,742.5 307.6,742.6 307.6,742.6 307.6,742.7 307.8,750.2 307.8,750.3 307.8,750.3 307.8,750.4 307.8,750.4 306.5,754.3 306.5,754.3 306.5,754.3 310.7,758.1 310.8,758.1 310.8,758.2 310.8,758.2 310.9,758.3 310.9,758.3 310.9,758.4 310.9,758.4 310.9,758.5 310.9,758.5 310.9,758.6 310.9,758.7 310.9,758.7 308.7,766.1 308.7,766.2 308.6,766.2 304.5,773.8 304.5,773.9 304.5,773.9 304.3,780.2 304.3,780.2 304.3,780.2 310.6,782.7 310.6,782.7 310.6,782.7 315.9,781.3 316.0,781.3 316.0,781.3 316.1,781.3 316.2,781.3 316.2,781.3 316.3,781.3 316.3,781.3 316.4,781.4 316.4,781.4 316.5,781.4 319.7,784.4 319.7,784.4 319.7,784.4 332.4,784.5 332.4,784.5 332.4,784.5 347.0,781.8 347.0,781.8 359.7,778.2 359.7,778.2 359.8,778.2 370.7,769.1 370.7,769.1 370.7,769.1 371.0,764.2 371.0,764.1 371.1,764.1 371.1,764.0 371.1,763.9 371.1,763.9 371.2,763.8 371.2,763.8 378.0,756.5 378.0,756.5 378.1,756.5 383.4,747.3 383.4,747.3 383.5,747.2 383.5,747.2 390.1,741.6 390.1,741.6 390.1,741.6 388.8,733.0 388.8,732.9 388.8,732.8 388.8,732.8 388.8,732.7 388.8,732.7 388.9,732.6 388.9,732.6 394.6,723.4 394.6,723.4 394.6,723.4 395.6,705.4 395.6,705.4 395.6,705.4 395.2,702.3 395.2,702.3 394.1,693.1 394.1,693.1 394.1,693.1 390.3,685.9 390.3,685.9 390.3,685.9 385.2,681.3 385.2,681.3 378.0,674.1 378.0,674.1 373.3,670.0 373.2,670.0 373.2,670.0 373.1,669.9 373.1,669.9 373.1,669.8 373.1,669.8 373.1,669.7 373.1,669.6 373.1,669.6 373.1,669.5 373.1,669.5 373.1,669.4 373.1,669.4 373.1,669.3 373.2,669.3 373.2,669.2 373.2,669.2 373.3,669.1 373.3,669.1 378.8,665.5 378.8,665.5 378.8,665.5 381.8,662.1 381.8,662.1 381.8,662.1 377.9,656.1 377.9,656.0 377.8,656.0 377.8,655.9 375.4,647.7 375.3,647.6 375.3,647.6 375.3,647.5 375.4,639.4 375.4,639.4 375.4,639.4 371.8,635.2 371.8,635.2 371.8,635.2 366.0,635.9 366.0,635.9 365.9,635.9 365.8,635.9 365.8,635.9 365.7,635.9 365.7,635.8 362.3,634.3 362.3,634.2 362.2,634.2 356.9,630.2 356.9,630.2 356.9,630.2 348.5,629.1 348.4,629.1 348.4,629.1 344.7,629.7 344.6,629.7 344.6,629.7 344.5,629.7 344.5,629.7 344.4,629.7 344.3,629.7 344.3,629.6 344.2,629.6 344.2,629.6 344.2,629.5 344.1,629.5 344.1,629.4 344.1,629.4 344.0,629.3 341.3,622.4 341.3,622.4 341.2,622.4 339.7,623.1 339.7,623.1 339.6,623.1 339.5,623.1 339.5,623.1 339.4,623.1 331.1,623.0 331.0,622.9 331.0,622.9 320.7,620.5 320.7,620.5 320.6,620.5 320.6,620.5 320.5,620.4 315.7,617.3 315.7,617.2 315.7,617.2 303.6,614.1 303.6,614.1 303.5,614.1 296.6,615.0 296.6,615.0 296.6,615.0 289.4,618.9 289.3,618.9 289.3,618.9 289.2,618.9 289.1,618.9 289.1,618.9 289.0,618.9 289.0,618.9 288.9,618.9 288.9,618.9 288.8,618.9 288.7,618.8 288.7,618.8 288.7,618.7 288.6,618.7 288.6,618.7 286.3,615.2 286.3,615.1 286.3,615.1 282.9,616.8 282.9,616.8 282.9,616.8 279.5,619.2 279.4,619.2 279.4,619.3 279.3,619.3 274.2,621.0 274.2,621.0 274.2,621.0 273.4,626.3 273.4,626.3 273.3,626.4 273.3,626.4 273.3,626.5 273.3,626.5 273.2,626.6 273.2,626.6 273.2,626.7 268.0,630.7 268.0,630.7 268.0,630.7 263.4,640.5 263.4,640.6 263.4,640.6 260.3,653.7 260.3,653.7 258.2,661.2 258.2,661.3 258.1,661.3 258.1,661.4 258.1,661.4 258.0,661.5 258.0,661.5 258.0,661.5 257.9,661.6 248.5,667.0 248.4,667.0 242.2,669.9 242.1,669.9 242.1,669.9 237.4,674.6 237.4,674.7 237.3,674.7 237.3,674.8 237.2,674.8 237.2,674.8 237.1,674.8 237.1,674.8 237.0,674.8 236.9,674.8 236.9,674.8 236.8,674.8 236.8,674.8 236.7,674.8 236.7,674.7 236.6,674.7 236.6,674.6 236.5,674.6 236.5,674.5 236.5,674.5 232.4,666.5 232.4,666.4 232.4,666.4 227.9,661.5 227.8,661.5 227.8,661.5 220.5,659.8 220.5,659.8 209.7,658.3 209.6,658.2 204.5,657.2 204.4,657.2 204.4,657.2 204.3,657.1 204.3,657.1 204.2,657.1 204.2,657.0 204.2,657.0 204.1,656.9 204.1,656.9 204.1,656.8 202.6,653.5 202.6,653.5 200.3,648.5 200.3,648.5 200.3,648.5 193.7,647.4Z" fill="#F5DEB3"/>
<path d="M195.4,648.4 195.4,648.4 195.9,652.7 195.9,652.7 195.9,652.7 199.3,654.4 199.3,654.4 199.4,654.4 199.4,654.5 199.5,654.5 199.5,654.5 199.5,654.6 199.6,654.6 199.6,654.7 201.7,660.4 201.7,660.4 201.7,660.5 201.8,660.5 201.8,660.6 201.7,660.7 201.7,660.7 201.1,663.0 201.1,663.0 201.1,663.1 202.9,665.5 202.9,665.5 202.9,665.5 205.1,664.4 205.2,664.3 205.2,664.3 205.3,664.3 205.3,664.3 205.4,664.3 205.5,664.3 205.5,664.3 205.6,664.3 208.3,665.3 208.4,665.3 208.4,665.3 208.5,665.3 208.5,665.4 208.6,665.4 208.6,665.4 208.6,665.5 208.7,665.5 208.7,665.6 208.7,665.7 208.7,665.7 208.7,665.8 208.7,665.8 208.7,665.9 208.7,665.9 208.1,669.2 208.1,669.2 208.1,669.2 210.9,672.6 211.0,672.7 211.0,672.7 211.0,672.8 211.0,672.9 211.0,672.9 211.1,673.0 211.1,673.0 211.0,676.6 211.0,676.6 211.0,676.6 213.3,679.1 213.3,679.1 213.3,679.1 216.7,679.6 216.7,679.6 216.8,679.7 216.9,679.7 216.9,679.7 217.0,679.7 217.0,679.8 217.0,679.8 217.1,679.9 219.1,682.6 219.2,682.7 219.2,682.7 219.2,682.8 219.2,682.9 219.2,682.9 219.2,683.0 219.2,683.0 218.4,692.9 218.4,693.0 216.7,705.7 216.7,705.7 216.7,705.7 220.0,706.1 220.0,706.1 220.1,706.1 220.2,706.2 220.2,706.2 220.3,706.2 220.3,706.2 220.3,706.3 222.1,708.2 222.1,708.2 222.2,708.2 226.7,710.2 226.8,710.2 226.9,710.2 226.9,710.3 226.9,710.3 227.0,710.3 227.0,710.4 227.0,710.4 227.1,710.5 227.1,710.6 228.0,714.3 228.0,714.4 228.0,714.4 230.0,718.2 230.0,718.2 230.0,718.3 230.0,718.4 230.0,718.4 230.0,718.5 230.0,718.5 230.0,718.6 230.0,718.7 230.0,718.7 228.3,722.4 228.3,722.4 228.3,722.4 232.8,725.3 232.8,725.3 232.9,725.4 232.9,725.4 232.9,725.4 233.0,725.5 233.0,725.5 233.0,725.6 233.0,725.6 233.0,725.7 233.0,725.8 233.0,725.8 233.0,725.9 233.0,725.9 233.0,726.0 233.0,726.0 233.0,726.1 232.9,726.1 230.5,729.5 230.5,729.5 230.5,729.6 232.7,735.5 232.7,735.6 232.7,735.5 241.8,733.9 241.9,733.9 241.9,733.9 242.0,733.9 242.0,734.0 242.1,734.0 242.1,734.0 242.2,734.0 242.2,734.0 242.3,734.1 242.3,734.1 242.4,734.2 242.4,734.2 242.4,734.3 242.5,734.3 242.5,734.4 242.5,734.4 243.7,740.7 243.7,740.7 243.7,740.7 247.7,743.9 247.7,743.9 247.7,743.9 256.4,746.6 256.4,746.6 256.4,746.6 260.0,744.0 260.0,744.0 260.1,744.0 260.1,744.0 260.2,743.9 260.2,743.9 260.3,743.9 260.4,743.9 260.4,743.9 260.5,744.0 260.5,744.0 266.1,746.4 266.2,746.4 266.2,746.4 266.3,746.5 266.3,746.5 269.4,749.7 269.4,749.7 269.4,749.7 270.2,744.8 270.2,744.8 270.2,744.8 267.1,733.1 267.1,733.0 267.1,733.0 267.1,732.9 267.1,732.9 267.1,732.8 267.1,732.8 267.1,732.7 267.1,732.7 267.2,732.6 267.2,732.6 267.3,732.5 267.3,732.5 267.3,732.4 267.4,732.4 267.4,732.4 267.5,732.4 267.6,732.4 267.6,732.3 267.7,732.3 273.9,732.3 273.9,732.3 273.9,732.3 276.7,725.5 276.8,725.5 276.8,725.5 277.6,718.8 277.6,718.8 277.6,718.7 277.6,718.6 277.7,718.6 277.7,718.5 277.7,718.5 277.8,718.5 277.8,718.4 277.9,718.4 277.9,718.4 278.0,718.3 278.0,718.3 278.1,718.3 278.1,718.3 278.2,718.3 278.3,718.3 278.3,718.3 281.2,719.0 281.2,719.0 281.3,719.0 281.4,719.1 281.4,719.1 281.5,719.1 291.7,728.9 291.7,729.0 291.7,729.0 301.6,733.5 301.7,733.5 301.7,733.5 301.8,733.5 301.8,733.6 301.9,733.6 306.2,738.9 306.2,738.9 306.2,739.0 306.3,739.0 306.3,739.1 306.3,739.1 306.3,739.2 306.3,739.2 306.7,746.8 306.7,746.9 306.6,747.0 306.6,747.0 305.5,750.9 305.5,750.9 305.5,750.9 309.6,754.7 309.6,754.7 309.6,754.8 309.7,754.8 309.7,754.9 309.7,754.9 309.7,755.0 309.7,755.0 309.8,755.1 309.8,755.2 309.7,755.2 309.7,755.3 307.8,762.7 307.7,762.8 307.7,762.8 303.9,770.5 303.9,770.5 303.9,770.5 303.8,776.9 303.8,776.9 303.8,776.9 309.8,779.3 309.8,779.3 309.8,779.3 314.8,777.9 314.9,777.9 315.0,777.9 315.0,777.9 315.1,777.9 315.1,777.9 315.2,777.9 315.2,777.9 315.3,777.9 315.3,778.0 315.4,778.0 315.4,778.0 318.5,781.0 318.5,781.0 318.5,781.0 330.7,781.0 330.7,781.0 330.7,781.0 344.7,778.4 344.8,778.4 357.0,775.0 357.0,775.0 357.0,775.0 367.5,766.3 367.5,766.3 367.5,766.2 367.7,761.5 367.7,761.4 367.7,761.3 367.7,761.3 367.8,761.2 367.8,761.2 367.8,761.1 367.9,761.1 374.5,754.2 374.5,754.1 374.5,754.1 379.7,745.4 379.7,745.3 379.7,745.3 379.8,745.2 379.8,745.2 386.2,739.9 386.3,739.9 386.3,739.9 384.9,731.6 384.9,731.5 384.9,731.5 384.9,731.4 384.9,731.4 384.9,731.3 384.9,731.3 384.9,731.2 385.0,731.2 390.6,722.5 390.6,722.5 390.6,722.4 391.5,705.1 391.5,705.1 391.5,705.1 391.2,702.2 391.2,702.2 390.1,693.3 390.1,693.3 390.1,693.3 386.6,686.4 386.6,686.4 386.6,686.4 381.6,682.0 381.6,682.0 374.6,675.0 374.6,675.0 370.1,671.2 370.0,671.1 370.0,671.1 370.0,671.0 369.9,671.0 369.9,670.9 369.9,670.9 369.9,670.8 369.9,670.7 369.9,670.7 369.9,670.6 369.9,670.6 369.9,670.5 369.9,670.5 370.0,670.4 370.0,670.4 370.0,670.3 370.1,670.3 370.1,670.2 370.2,670.2 375.6,666.6 375.7,666.6 375.7,666.6 378.7,663.3 378.7,663.3 378.7,663.3 375.0,657.4 375.0,657.4 375.0,657.3 375.0,657.3 372.8,649.2 372.8,649.1 372.8,649.1 372.8,649.0 373.1,641.0 373.1,641.0 373.1,641.0 369.6,636.9 369.6,636.9 369.6,636.9 364.0,637.6 363.9,637.6 363.8,637.6 363.8,637.6 363.7,637.6 363.7,637.6 363.6,637.5 360.4,636.0 360.3,636.0 360.3,635.9 355.2,632.0 355.2,632.0 355.1,632.0 346.9,631.0 346.9,631.0 346.9,631.0 343.2,631.6 343.2,631.6 343.1,631.6 343.0,631.6 343.0,631.6 342.9,631.6 342.9,631.6 342.8,631.5 342.8,631.5 342.7,631.5 342.7,631.4 342.6,631.4 342.6,631.3 342.6,631.3 342.5,631.2 339.9,624.3 339.9,624.3 339.9,624.3 338.4,625.1 338.4,625.1 338.3,625.1 338.3,625.1 338.2,625.1 338.1,625.1 330.0,625.0 329.9,625.0 329.9,625.0 319.9,622.6 319.9,622.6 319.8,622.6 319.8,622.5 319.7,622.5 315.1,619.3 315.1,619.3 315.0,619.3 303.2,616.2 303.2,616.2 303.2,616.2 296.5,617.0 296.4,617.0 296.4,617.0 289.4,620.9 289.4,620.9 289.3,620.9 289.2,620.9 289.2,620.9 289.1,620.9 289.1,620.9 289.0,620.9 288.9,620.9 288.9,620.9 288.8,620.9 288.8,620.8 288.7,620.8 288.7,620.7 288.7,620.7 288.6,620.7 286.4,617.2 286.4,617.1 286.4,617.1 283.1,618.8 283.1,618.8 283.1,618.8 279.8,621.2 279.7,621.2 279.7,621.2 279.6,621.2 274.6,622.9 274.6,622.9 274.6,622.9 273.8,628.2 273.8,628.3 273.8,628.3 273.8,628.4 273.8,628.4 273.7,628.5 273.7,628.5 273.6,628.5 273.6,628.6 268.6,632.6 268.6,632.6 268.6,632.6 264.2,642.3 264.2,642.3 264.2,642.3 261.3,655.3 261.3,655.3 259.4,662.6 259.4,662.7 259.4,662.7 259.3,662.8 259.3,662.8 259.3,662.9 259.2,662.9 259.2,663.0 259.1,663.0 250.0,668.1 250.0,668.2 243.9,670.9 243.8,670.9 243.8,670.9 239.3,675.5 239.2,675.5 239.2,675.5 239.1,675.6 239.1,675.6 239.0,675.6 239.0,675.6 238.9,675.6 238.8,675.6 238.8,675.6 238.7,675.6 238.7,675.6 238.6,675.6 238.6,675.6 238.5,675.5 238.5,675.5 238.4,675.5 238.4,675.4 238.3,675.4 238.3,675.3 234.2,667.4 234.2,667.4 234.1,667.4 229.5,662.5 229.5,662.5 229.5,662.5 222.3,660.8 222.2,660.8 211.5,659.1 211.4,659.1 206.3,658.1 206.2,658.0 206.2,658.0 206.1,658.0 206.1,658.0 206.0,657.9 206.0,657.9 206.0,657.9 205.9,657.8 205.9,657.8 205.9,657.7 204.4,654.4 204.4,654.4 202.1,649.5 202.1,649.5 202.0,649.5 195.4,648.4Z" fill="#FFD700"/>
<path d="M196.2,648.8 196.2,648.8 196.8,653.1 196.8,653.1 196.8,653.1 200.2,654.8 200.2,654.8 200.3,654.8 200.3,654.9 200.3,654.9 200.4,655.0 200.4,655.0 200.4,655.1 200.5,655.1 202.6,660.7 202.6,660.8 202.6,660.9 202.6,660.9 202.6,661.0 202.6,661.1 202.6,661.1 202.0,663.4 202.0,663.4 202.0,663.4 203.8,665.9 203.8,665.9 203.8,665.9 206.0,664.7 206.1,664.7 206.1,664.7 206.2,664.7 206.2,664.6 206.3,664.6 206.4,664.6 206.4,664.7 206.5,664.7 209.2,665.6 209.3,665.6 209.4,665.7 209.4,665.7 209.5,665.7 209.5,665.8 209.5,665.8 209.6,665.9 209.6,665.9 209.6,666.0 209.6,666.1 209.6,666.1 209.7,666.2 209.7,666.2 209.6,666.3 209.1,669.5 209.1,669.5 209.1,669.5 211.9,672.9 211.9,673.0 211.9,673.0 212.0,673.1 212.0,673.2 212.0,673.2 212.0,673.3 212.0,673.3 211.9,676.8 211.9,676.9 211.9,676.9 214.3,679.3 214.3,679.3 214.3,679.3 217.7,679.9 217.7,679.9 217.8,679.9 217.8,679.9 217.9,680.0 217.9,680.0 218.0,680.0 218.0,680.1 218.0,680.1 220.1,682.8 220.1,682.9 220.2,683.0 220.2,683.0 220.2,683.1 220.2,683.1 220.2,683.2 220.2,683.3 219.5,693.0 219.5,693.0 217.7,705.6 217.7,705.6 217.7,705.6 221.0,706.0 221.1,706.0 221.1,706.0 221.2,706.0 221.2,706.1 221.3,706.1 221.3,706.1 221.4,706.2 223.1,708.0 223.2,708.0 223.2,708.0 227.7,710.0 227.8,710.0 227.8,710.0 227.9,710.1 227.9,710.1 228.0,710.2 228.0,710.2 228.0,710.3 228.1,710.3 228.1,710.4 229.0,714.1 229.0,714.1 229.0,714.1 230.9,717.9 230.9,717.9 230.9,718.0 231.0,718.0 231.0,718.1 231.0,718.2 231.0,718.2 230.9,718.3 230.9,718.3 230.9,718.4 229.2,722.1 229.2,722.1 229.2,722.1 233.6,724.9 233.7,724.9 233.7,724.9 233.8,725.0 233.8,725.0 233.8,725.1 233.9,725.1 233.9,725.2 233.9,725.2 233.9,725.3 233.9,725.3 233.9,725.4 233.9,725.5 233.9,725.5 233.9,725.6 233.9,725.6 233.8,725.7 233.8,725.7 231.4,729.1 231.3,729.1 231.4,729.1 233.5,735.0 233.5,735.0 233.5,735.0 242.5,733.4 242.6,733.4 242.6,733.4 242.7,733.4 242.8,733.4 242.8,733.4 242.9,733.4 242.9,733.5 243.0,733.5 243.0,733.5 243.1,733.6 243.1,733.6 243.1,733.7 243.2,733.7 243.2,733.8 243.2,733.8 243.2,733.9 244.4,740.1 244.4,740.1 244.4,740.1 248.3,743.2 248.3,743.2 248.3,743.2 257.0,745.7 257.0,745.7 257.0,745.7 260.5,743.2 260.6,743.1 260.6,743.1 260.7,743.1 260.8,743.1 260.8,743.1 260.9,743.1 260.9,743.1 261.0,743.1 261.1,743.1 261.1,743.1 266.6,745.3 266.7,745.4 266.8,745.4 266.8,745.4 266.8,745.5 269.9,748.6 269.9,748.6 269.9,748.6 270.7,743.7 270.7,743.7 270.7,743.7 267.7,732.2 267.7,732.2 267.7,732.1 267.7,732.0 267.7,732.0 267.7,731.9 267.7,731.9 267.7,731.8 267.7,731.8 267.8,731.7 267.8,731.7 267.9,731.6 267.9,731.6 267.9,731.5 268.0,731.5 268.1,731.5 268.1,731.5 268.2,731.5 268.2,731.5 274.4,731.3 274.4,731.3 274.4,731.2 277.3,724.5 277.3,724.5 277.3,724.5 278.2,717.9 278.2,717.8 278.2,717.8 278.2,717.7 278.2,717.7 278.3,717.6 278.3,717.6 278.3,717.5 278.4,717.5 278.4,717.5 278.5,717.4 278.5,717.4 278.6,717.4 278.6,717.4 278.7,717.4 278.8,717.4 278.8,717.4 278.9,717.4 281.6,717.9 281.7,717.9 281.7,717.9 281.8,718.0 281.8,718.0 281.9,718.0 281.9,718.1 291.6,727.4 291.7,727.4 291.7,727.4 301.1,731.8 301.2,731.8 301.2,731.9 301.2,731.9 301.3,731.9 301.3,732.0 305.5,737.2 305.6,737.3 305.6,737.3 305.6,737.4 305.6,737.5 305.6,737.5 305.7,737.6 306.1,745.2 306.1,745.2 306.1,745.3 306.1,745.4 305.0,749.2 305.0,749.2 305.0,749.2 309.0,753.0 309.0,753.1 309.1,753.1 309.1,753.2 309.1,753.2 309.2,753.3 309.2,753.3 309.2,753.4 309.2,753.4 309.2,753.5 309.2,753.6 309.2,753.6 307.3,761.1 307.3,761.1 307.3,761.2 303.6,768.9 303.6,768.9 303.6,768.9 303.5,775.3 303.5,775.3 303.5,775.3 309.4,777.7 309.4,777.7 309.4,777.7 314.3,776.2 314.4,776.2 314.4,776.2 314.5,776.2 314.6,776.2 314.6,776.2 314.7,776.2 314.7,776.3 314.8,776.3 314.8,776.3 314.9,776.4 314.9,776.4 317.9,779.4 317.9,779.4 317.9,779.4 329.9,779.4 329.9,779.4 329.9,779.4 343.6,776.8 343.7,776.8 355.6,773.5 355.6,773.5 355.6,773.5 365.9,764.9 365.9,764.9 365.9,764.9 366.1,760.2 366.1,760.1 366.1,760.0 366.1,760.0 366.2,759.9 366.2,759.9 366.2,759.8 366.3,759.8 372.8,753.0 372.8,753.0 372.8,753.0 377.9,744.4 377.9,744.4 377.9,744.3 378.0,744.3 378.0,744.3 384.4,739.1 384.4,739.1 384.4,739.1 383.0,730.9 383.0,730.9 383.0,730.8 383.0,730.8 383.0,730.7 383.0,730.7 383.0,730.6 383.0,730.6 383.1,730.5 388.7,722.0 388.7,722.0 388.7,722.0 389.5,705.0 389.6,705.0 389.5,705.0 389.2,702.1 388.2,693.4 388.2,693.4 388.2,693.3 384.8,686.6 384.7,686.6 384.7,686.6 379.8,682.3 379.8,682.3 373.0,675.5 373.0,675.5 368.6,671.7 368.5,671.7 368.5,671.6 368.4,671.6 368.4,671.5 368.4,671.5 368.4,671.4 368.4,671.3 368.3,671.3 368.3,671.2 368.3,671.2 368.4,671.1 368.4,671.1 368.4,671.0 368.4,670.9 368.5,670.9 368.5,670.9 368.5,670.8 368.6,670.8 368.6,670.7 374.1,667.2 374.1,667.2 374.2,667.2 377.2,663.9 377.2,663.9 377.2,663.9 373.7,658.1 373.7,658.0 373.6,658.0 373.6,657.9 371.6,649.9 371.6,649.9 371.6,649.8 371.6,649.8 372.0,641.8 372.0,641.8 372.0,641.8 368.6,637.7 368.6,637.7 368.5,637.7 363.0,638.4 362.9,638.4 362.8,638.4 362.8,638.4 362.7,638.4 362.7,638.4 362.6,638.4 359.4,636.8 359.4,636.8 359.3,636.8 354.3,632.8 354.3,632.8 354.3,632.8 346.1,631.9 346.1,631.9 346.1,631.9 342.5,632.5 342.4,632.5 342.4,632.5 342.3,632.5 342.3,632.5 342.2,632.5 342.1,632.5 342.1,632.4 342.0,632.4 342.0,632.4 341.9,632.3 341.9,632.3 341.9,632.2 341.8,632.2 341.8,632.1 339.3,625.3 339.3,625.3 339.3,625.3 337.8,626.0 337.7,626.0 337.7,626.0 337.6,626.1 337.6,626.1 337.5,626.1 329.5,626.0 329.4,626.0 329.3,625.9 319.5,623.6 319.5,623.6 319.4,623.6 319.4,623.5 319.3,623.5 314.8,620.4 314.7,620.4 314.7,620.3 303.1,617.2 303.1,617.2 303.1,617.2 296.4,618.0 296.4,618.0 296.4,618.0 289.4,621.8 289.4,621.9 289.3,621.9 289.3,621.9 289.2,621.9 289.1,621.9 289.1,621.9 289.0,621.9 289.0,621.9 288.9,621.9 288.9,621.8 288.8,621.8 288.8,621.8 288.7,621.7 288.7,621.7 288.6,621.6 286.4,618.1 286.4,618.1 286.4,618.1 283.2,619.7 283.2,619.7 283.2,619.7 279.9,622.1 279.9,622.1 279.8,622.2 279.7,622.2 274.8,623.8 274.8,623.8 274.8,623.8 274.0,629.1 274.0,629.2 274.0,629.2 274.0,629.3 274.0,629.3 273.9,629.4 273.9,629.4 273.9,629.5 273.8,629.5 268.9,633.5 268.9,633.5 268.9,633.5 264.6,643.1 264.6,643.2 264.6,643.2 261.9,656.0 261.8,656.1 260.0,663.3 260.0,663.4 260.0,663.4 259.9,663.5 259.9,663.5 259.9,663.6 259.8,663.6 259.8,663.6 259.7,663.7 250.7,668.7 250.7,668.7 244.7,671.4 244.7,671.4 244.6,671.4 240.2,675.8 240.1,675.9 240.1,675.9 240.0,676.0 240.0,676.0 239.9,676.0 239.8,676.0 239.8,676.0 239.7,676.0 239.7,676.0 239.6,676.0 239.6,676.0 239.5,676.0 239.4,676.0 239.4,675.9 239.4,675.9 239.3,675.8 239.3,675.8 239.2,675.8 239.2,675.7 235.0,667.9 235.0,667.8 235.0,667.8 230.4,663.0 230.4,663.0 230.3,663.0 223.1,661.2 223.1,661.2 212.3,659.6 212.3,659.6 207.2,658.5 207.1,658.5 207.0,658.4 207.0,658.4 206.9,658.4 206.9,658.3 206.8,658.3 206.8,658.2 206.8,658.2 206.7,658.1 205.2,654.8 205.2,654.8 202.9,650.0 202.9,649.9 202.9,649.9 196.3,648.8Z" fill="#FFA500"/>
<path d="M197.1,649.2 197.1,649.3 197.6,653.5 197.6,653.5 197.7,653.5 201.0,655.2 201.1,655.2 201.1,655.3 201.2,655.3 201.2,655.4 201.3,655.4 201.3,655.5 201.3,655.5 203.5,661.1 203.5,661.2 203.5,661.2 203.5,661.3 203.5,661.4 203.5,661.4 203.5,661.5 202.9,663.8 202.9,663.8 202.9,663.8 204.7,666.2 204.7,666.2 204.7,666.2 206.9,665.1 207.0,665.0 207.0,665.0 207.1,665.0 207.1,665.0 207.2,665.0 207.3,665.0 207.3,665.0 207.4,665.0 210.2,666.0 210.2,666.0 210.3,666.0 210.3,666.1 210.4,666.1 210.4,666.2 210.4,666.2 210.5,666.2 210.5,666.3 210.5,666.4 210.5,666.4 210.6,666.5 210.6,666.5 210.6,666.6 210.6,666.7 210.0,669.8 210.0,669.8 210.0,669.9 212.8,673.2 212.8,673.3 212.9,673.3 212.9,673.4 212.9,673.5 212.9,673.5 212.9,673.6 212.9,673.6 212.9,677.1 212.9,677.1 212.9,677.1 215.3,679.6 215.3,679.6 215.3,679.6 218.6,680.1 218.7,680.1 218.7,680.2 218.8,680.2 218.8,680.2 218.9,680.2 218.9,680.3 219.0,680.3 219.0,680.4 221.1,683.1 221.1,683.1 221.2,683.2 221.2,683.2 221.2,683.3 221.2,683.3 221.2,683.4 221.2,683.5 220.5,693.1 220.5,693.1 218.7,705.5 218.7,705.5 218.7,705.5 222.0,705.9 222.1,705.9 222.1,705.9 222.2,705.9 222.3,705.9 222.3,706.0 222.3,706.0 222.4,706.1 224.2,707.9 224.2,707.9 224.2,707.9 228.7,709.8 228.8,709.8 228.8,709.8 228.9,709.9 228.9,709.9 229.0,709.9 229.0,710.0 229.0,710.0 229.0,710.1 229.1,710.1 229.1,710.2 230.0,713.8 230.0,713.9 230.0,713.9 231.8,717.6 231.9,717.6 231.9,717.7 231.9,717.7 231.9,717.8 231.9,717.8 231.9,717.9 231.9,718.0 231.9,718.0 231.8,718.1 230.1,721.7 230.1,721.7 230.1,721.7 234.5,724.4 234.5,724.5 234.6,724.5 234.6,724.6 234.7,724.6 234.7,724.7 234.7,724.7 234.7,724.8 234.8,724.8 234.8,724.9 234.8,724.9 234.8,725.0 234.8,725.0 234.8,725.1 234.7,725.2 234.7,725.2 234.7,725.3 234.7,725.3 232.2,728.6 232.2,728.7 232.2,728.7 234.2,734.5 234.2,734.5 234.3,734.5 243.3,732.9 243.3,732.8 243.4,732.8 243.4,732.8 243.5,732.9 243.6,732.9 243.6,732.9 243.7,732.9 243.7,732.9 243.8,733.0 243.8,733.0 243.8,733.1 243.9,733.1 243.9,733.2 243.9,733.2 244.0,733.3 244.0,733.3 245.1,739.5 245.1,739.5 245.1,739.5 248.9,742.6 249.0,742.6 249.0,742.6 257.5,744.9 257.6,744.9 257.6,744.9 261.1,742.3 261.2,742.3 261.2,742.2 261.3,742.2 261.3,742.2 261.4,742.2 261.5,742.2 261.5,742.2 261.6,742.2 261.6,742.2 261.7,742.2 267.1,744.3 267.2,744.3 267.3,744.4 267.3,744.4 267.4,744.5 270.3,747.5 270.3,747.5 270.3,747.5 271.2,742.7 271.2,742.6 271.2,742.6 268.3,731.3 268.2,731.3 268.2,731.2 268.2,731.2 268.2,731.1 268.2,731.0 268.3,731.0 268.3,730.9 268.3,730.9 268.3,730.8 268.4,730.8 268.4,730.7 268.5,730.7 268.5,730.7 268.6,730.6 268.6,730.6 268.7,730.6 268.7,730.6 268.8,730.6 274.9,730.2 274.9,730.2 274.9,730.2 277.8,723.5 277.8,723.5 277.8,723.5 278.7,716.9 278.7,716.9 278.8,716.8 278.8,716.8 278.8,716.7 278.8,716.7 278.9,716.6 278.9,716.6 279.0,716.5 279.0,716.5 279.1,716.5 279.1,716.5 279.2,716.4 279.2,716.4 279.3,716.4 279.3,716.4 279.4,716.4 282.1,716.8 282.1,716.8 282.2,716.8 282.3,716.9 282.3,716.9 282.4,716.9 282.4,717.0 291.6,725.9 291.6,725.9 291.6,725.9 300.6,730.1 300.6,730.2 300.7,730.2 300.7,730.2 300.7,730.3 300.8,730.3 304.9,735.6 304.9,735.6 304.9,735.7 305.0,735.7 305.0,735.8 305.0,735.8 305.0,735.9 305.5,743.5 305.5,743.6 305.5,743.6 305.5,743.7 304.5,747.6 304.5,747.6 304.5,747.6 308.4,751.4 308.5,751.4 308.5,751.5 308.6,751.5 308.6,751.6 308.6,751.6 308.6,751.7 308.6,751.8 308.6,751.8 308.6,751.9 308.6,751.9 306.9,759.4 306.9,759.5 306.8,759.5 303.3,767.3 303.3,767.3 303.3,767.3 303.2,773.7 303.2,773.7 303.2,773.7 309.0,776.0 309.0,776.0 309.0,776.0 313.8,774.6 313.9,774.6 313.9,774.6 314.0,774.6 314.0,774.6 314.1,774.6 314.1,774.6 314.2,774.6 314.3,774.6 314.3,774.7 314.4,774.7 314.4,774.7 317.4,777.7 317.4,777.7 317.4,777.7 329.1,777.7 329.1,777.7 329.1,777.7 342.5,775.2 342.6,775.2 354.3,771.9 354.3,771.9 354.3,771.9 364.4,763.5 364.4,763.5 364.4,763.5 364.5,758.9 364.5,758.8 364.5,758.7 364.5,758.7 364.5,758.6 364.6,758.6 364.6,758.5 364.6,758.5 364.7,758.4 371.1,751.9 371.1,751.9 371.1,751.9 376.0,743.5 376.1,743.4 376.1,743.4 376.1,743.3 376.2,743.3 382.5,738.3 382.5,738.3 382.5,738.3 381.1,730.3 381.1,730.2 381.1,730.2 381.1,730.1 381.1,730.0 381.1,730.0 381.1,729.9 381.1,729.9 381.2,729.8 386.7,721.5 386.7,721.5 386.7,721.5 387.6,704.9 387.6,704.8 387.6,704.8 387.3,702.0 386.3,693.5 386.3,693.5 386.3,693.4 382.9,686.8 382.9,686.8 382.9,686.8 378.1,682.6 378.0,682.6 371.4,675.9 371.3,675.9 367.0,672.2 367.0,672.2 366.9,672.1 366.9,672.1 366.9,672.0 366.9,672.0 366.8,671.9 366.8,671.9 366.8,671.8 366.8,671.8 366.8,671.7 366.8,671.6 366.8,671.6 366.9,671.5 366.9,671.5 366.9,671.4 367.0,671.4 367.0,671.3 367.0,671.3 367.1,671.3 372.6,667.8 372.6,667.7 372.6,667.7 375.7,664.5 375.7,664.5 375.7,664.5 372.3,658.8 372.3,658.7 372.3,658.7 372.2,658.6 370.3,650.7 370.3,650.6 370.3,650.6 370.3,650.5 370.8,642.6 370.8,642.6 370.8,642.6 367.5,638.5 367.5,638.5 367.5,638.5 362.0,639.2 361.9,639.2 361.9,639.2 361.8,639.2 361.7,639.2 361.7,639.2 361.6,639.2 358.5,637.7 358.4,637.6 358.4,637.6 353.5,633.7 353.5,633.7 353.5,633.7 345.4,632.8 345.4,632.8 345.4,632.8 341.8,633.4 341.7,633.4 341.7,633.4 341.6,633.4 341.5,633.4 341.5,633.4 341.4,633.4 341.4,633.4 341.3,633.3 341.3,633.3 341.2,633.2 341.2,633.2 341.2,633.1 341.1,633.1 341.1,633.0 338.7,626.2 338.7,626.2 338.6,626.2 337.2,627.0 337.1,627.0 337.1,627.0 337.0,627.0 336.9,627.0 336.9,627.0 329.0,626.9 328.9,626.9 328.8,626.9 319.1,624.6 319.1,624.6 319.0,624.6 319.0,624.5 318.9,624.5 314.4,621.4 314.4,621.4 314.4,621.4 302.9,618.2 302.9,618.2 302.9,618.2 296.3,619.0 296.3,619.0 296.3,619.0 289.5,622.8 289.4,622.8 289.3,622.8 289.3,622.9 289.2,622.9 289.2,622.9 289.1,622.9 289.0,622.9 289.0,622.8 288.9,622.8 288.9,622.8 288.8,622.8 288.8,622.7 288.7,622.7 288.7,622.6 288.7,622.6 286.5,619.1 286.5,619.1 286.5,619.1 283.3,620.7 283.3,620.7 283.3,620.7 280.0,623.1 280.0,623.1 279.9,623.1 279.9,623.2 275.0,624.8 275.0,624.8 275.0,624.8 274.3,630.1 274.3,630.1 274.2,630.2 274.2,630.2 274.2,630.3 274.2,630.3 274.1,630.4 274.1,630.4 274.0,630.4 269.2,634.4 269.2,634.4 269.2,634.4 265.0,644.0 265.0,644.0 265.0,644.0 262.4,656.8 262.4,656.8 260.6,664.0 260.6,664.0 260.6,664.1 260.5,664.1 260.5,664.2 260.5,664.2 260.4,664.3 260.4,664.3 260.3,664.4 251.5,669.2 251.4,669.3 245.5,671.8 245.5,671.9 245.5,671.9 241.0,676.2 241.0,676.3 241.0,676.3 240.9,676.3 240.8,676.4 240.8,676.4 240.7,676.4 240.7,676.4 240.6,676.4 240.6,676.4 240.5,676.4 240.4,676.4 240.4,676.4 240.3,676.3 240.3,676.3 240.2,676.3 240.2,676.2 240.2,676.2 240.1,676.2 240.1,676.1 235.8,668.3 235.8,668.3 235.8,668.3 231.2,663.5 231.2,663.5 231.2,663.4 223.9,661.7 223.9,661.7 213.2,660.0 213.1,660.0 208.0,658.9 208.0,658.9 207.9,658.8 207.9,658.8 207.8,658.8 207.8,658.7 207.7,658.7 207.7,658.7 207.6,658.6 207.6,658.5 206.1,655.3 206.1,655.3 203.7,650.4 203.7,650.4 203.7,650.4 197.1,649.2Z" fill="#FF4500"/>
<path d="M198.3,649.9 198.3,649.9 198.9,654.1 198.9,654.1 198.9,654.1 202.3,655.8 202.4,655.9 202.4,655.9 202.5,655.9 202.5,656.0 202.5,656.0 202.6,656.1 202.6,656.1 204.8,661.7 204.8,661.7 204.8,661.8 204.9,661.9 204.9,661.9 204.8,662.0 204.8,662.1 204.3,664.3 204.3,664.3 204.3,664.3 206.0,666.7 206.1,666.7 206.1,666.7 208.2,665.6 208.3,665.6 208.4,665.6 208.4,665.5 208.5,665.5 208.5,665.5 208.6,665.5 208.7,665.6 208.7,665.6 211.5,666.5 211.5,666.5 211.6,666.6 211.6,666.6 211.7,666.6 211.7,666.7 211.8,666.7 211.8,666.8 211.8,666.8 211.9,666.9 211.9,667.0 211.9,667.0 211.9,667.1 211.9,667.1 211.9,667.2 211.3,670.3 211.3,670.3 211.4,670.3 214.2,673.7 214.2,673.7 214.3,673.8 214.3,673.8 214.3,673.9 214.3,674.0 214.3,674.0 214.3,674.1 214.3,677.5 214.3,677.5 214.3,677.5 216.7,679.9 216.7,679.9 216.7,679.9 220.1,680.5 220.1,680.5 220.2,680.5 220.2,680.5 220.3,680.6 220.3,680.6 220.4,680.6 220.4,680.7 220.4,680.7 222.5,683.4 222.6,683.4 222.6,683.5 222.6,683.5 222.6,683.6 222.7,683.7 222.7,683.7 222.7,683.8 222.0,693.2 222.0,693.2 220.2,705.3 220.2,705.3 220.3,705.3 223.5,705.7 223.6,705.7 223.6,705.7 223.7,705.8 223.8,705.8 223.8,705.8 223.8,705.8 223.9,705.9 225.6,707.7 225.7,707.7 225.7,707.7 230.2,709.5 230.2,709.5 230.3,709.6 230.3,709.6 230.4,709.6 230.4,709.7 230.4,709.7 230.5,709.8 230.5,709.8 230.5,709.9 230.5,709.9 231.4,713.5 231.4,713.5 231.4,713.5 233.2,717.1 233.2,717.1 233.2,717.2 233.3,717.3 233.3,717.3 233.3,717.4 233.3,717.4 233.3,717.5 233.2,717.6 233.2,717.6 231.5,721.2 231.5,721.2 231.5,721.2 235.8,723.8 235.8,723.9 235.8,723.9 235.9,723.9 235.9,724.0 236.0,724.0 236.0,724.1 236.0,724.1 236.0,724.2 236.0,724.3 236.0,724.3 236.0,724.4 236.0,724.4 236.0,724.5 236.0,724.5 236.0,724.6 236.0,724.7 235.9,724.7 233.4,728.0 233.4,728.0 233.4,728.0 235.4,733.8 235.4,733.8 235.4,733.8 244.3,732.0 244.4,732.0 244.5,732.0 244.5,732.0 244.6,732.0 244.6,732.1 244.7,732.1 244.8,732.1 244.8,732.1 244.9,732.2 244.9,732.2 244.9,732.3 245.0,732.3 245.0,732.4 245.0,732.4 245.0,732.5 245.1,732.5 246.0,738.6 246.0,738.6 246.1,738.6 249.9,741.6 249.9,741.6 249.9,741.6 258.4,743.7 258.4,743.7 258.4,743.6 262.0,741.0 262.0,741.0 262.1,740.9 262.1,740.9 262.2,740.9 262.3,740.9 262.3,740.9 262.4,740.9 262.4,740.9 262.5,740.9 262.5,740.9 267.9,742.8 267.9,742.8 268.0,742.9 268.0,742.9 268.1,742.9 268.1,743.0 271.0,745.9 271.0,745.9 271.0,745.9 271.9,741.1 271.9,741.0 271.9,741.0 269.1,730.0 269.1,730.0 269.1,729.9 269.1,729.9 269.1,729.8 269.1,729.7 269.1,729.7 269.1,729.6 269.2,729.6 269.2,729.5 269.2,729.5 269.3,729.4 269.3,729.4 269.4,729.4 269.4,729.3 269.5,729.3 269.6,729.3 269.6,729.3 275.6,728.7 275.6,728.7 275.6,728.7 278.5,722.0 278.5,722.0 278.5,721.9 279.6,715.6 279.6,715.5 279.6,715.4 279.6,715.4 279.6,715.3 279.7,715.3 279.7,715.2 279.8,715.2 279.8,715.2 279.9,715.1 279.9,715.1 280.0,715.1 280.0,715.1 280.1,715.1 280.1,715.1 280.2,715.1 282.7,715.2 282.8,715.2 282.9,715.2 282.9,715.3 283.0,715.3 283.0,715.3 283.1,715.4 283.1,715.4 291.5,723.6 291.5,723.6 291.5,723.6 299.8,727.7 299.8,727.7 299.9,727.8 299.9,727.8 300.0,727.8 300.0,727.9 303.9,733.1 304.0,733.2 304.0,733.2 304.0,733.3 304.0,733.3 304.0,733.4 304.1,733.5 304.7,741.1 304.7,741.1 304.7,741.2 304.7,741.3 303.8,745.2 303.8,745.2 303.8,745.2 307.6,748.9 307.7,749.0 307.7,749.0 307.7,749.1 307.7,749.1 307.8,749.2 307.8,749.3 307.8,749.3 307.8,749.4 307.8,749.4 307.8,749.5 306.2,757.0 306.2,757.1 306.2,757.1 302.8,764.9 302.8,764.9 302.8,764.9 302.8,771.3 302.8,771.3 302.8,771.3 308.4,773.6 308.4,773.7 308.5,773.6 313.0,772.2 313.1,772.2 313.2,772.2 313.2,772.2 313.3,772.2 313.3,772.2 313.4,772.2 313.4,772.2 313.5,772.2 313.6,772.3 313.6,772.3 313.6,772.3 316.5,775.3 316.5,775.3 316.6,775.3 327.9,775.3 327.9,775.3 327.9,775.3 340.9,772.8 341.0,772.8 352.3,769.7 352.3,769.7 352.3,769.6 362.1,761.5 362.1,761.5 362.1,761.5 362.1,756.9 362.1,756.9 362.1,756.8 362.2,756.8 362.2,756.7 362.2,756.7 362.2,756.6 362.3,756.6 362.3,756.5 368.5,750.2 368.5,750.2 368.6,750.2 373.4,742.1 373.4,742.0 373.5,742.0 373.5,741.9 373.5,741.9 379.8,737.1 379.8,737.1 379.8,737.1 378.3,729.3 378.3,729.2 378.3,729.2 378.3,729.1 378.3,729.1 378.3,729.0 378.3,729.0 378.4,728.9 378.4,728.8 383.9,720.8 383.9,720.8 383.9,720.8 384.7,704.7 384.7,704.7 384.7,704.6 384.4,701.9 384.4,701.9 383.6,693.6 383.6,693.6 383.5,693.6 380.3,687.2 380.3,687.1 380.3,687.1 375.5,683.1 375.5,683.0 369.0,676.6 368.9,676.6 364.8,673.0 364.7,673.0 364.7,672.9 364.7,672.9 364.6,672.8 364.6,672.8 364.6,672.7 364.6,672.7 364.6,672.6 364.6,672.6 364.6,672.5 364.6,672.4 364.6,672.4 364.6,672.3 364.6,672.3 364.7,672.2 364.7,672.2 364.7,672.1 364.8,672.1 364.8,672.1 370.4,668.6 370.4,668.6 370.4,668.6 373.6,665.3 373.6,665.3 373.6,665.3 370.3,659.7 370.3,659.7 370.2,659.6 370.2,659.6 368.5,651.8 368.5,651.7 368.5,651.6 368.5,651.6 369.2,643.7 369.2,643.7 369.2,643.7 366.0,639.7 366.0,639.7 366.0,639.7 360.5,640.4 360.5,640.4 360.4,640.4 360.3,640.4 360.3,640.4 360.2,640.4 360.2,640.4 357.1,638.9 357.1,638.9 357.0,638.8 352.3,634.9 352.2,634.9 352.2,634.9 344.3,634.1 344.3,634.1 344.2,634.1 340.7,634.8 340.7,634.8 340.6,634.8 340.6,634.8 340.5,634.8 340.4,634.7 340.4,634.7 340.3,634.7 340.3,634.7 340.2,634.6 340.2,634.6 340.2,634.6 340.1,634.5 340.1,634.5 340.1,634.4 340.0,634.4 337.7,627.6 337.7,627.6 337.7,627.6 336.2,628.4 336.2,628.4 336.1,628.4 336.1,628.4 336.0,628.4 336.0,628.4 328.2,628.4 328.1,628.4 328.0,628.4 318.6,626.1 318.5,626.1 318.5,626.0 318.4,626.0 318.4,626.0 314.0,622.9 314.0,622.9 313.9,622.8 302.7,619.7 302.7,619.7 302.7,619.7 296.2,620.5 296.2,620.5 296.2,620.5 289.5,624.2 289.4,624.2 289.4,624.3 289.3,624.3 289.3,624.3 289.2,624.3 289.2,624.3 289.1,624.3 289.0,624.3 289.0,624.3 288.9,624.2 288.9,624.2 288.8,624.2 288.8,624.1 288.7,624.1 288.7,624.1 288.7,624.0 286.6,620.5 286.5,620.5 286.5,620.5 283.4,622.1 283.4,622.1 283.4,622.1 280.2,624.5 280.2,624.5 280.1,624.5 280.1,624.6 275.3,626.1 275.3,626.1 275.3,626.2 274.6,631.4 274.6,631.5 274.6,631.5 274.5,631.6 274.5,631.6 274.5,631.7 274.4,631.7 274.4,631.8 274.4,631.8 269.7,635.7 269.7,635.7 269.7,635.7 265.6,645.2 265.6,645.2 265.5,645.3 263.1,657.9 263.1,657.9 261.5,665.0 261.5,665.0 261.4,665.1 261.4,665.1 261.4,665.2 261.4,665.2 261.3,665.3 261.3,665.3 261.2,665.3 261.2,665.4 252.6,670.1 252.5,670.1 246.7,672.5 246.7,672.6 246.7,672.6 242.3,676.8 242.3,676.9 242.3,676.9 242.2,676.9 242.2,676.9 242.1,677.0 242.0,677.0 242.0,677.0 241.9,677.0 241.9,677.0 241.8,677.0 241.8,677.0 241.7,676.9 241.6,676.9 241.6,676.9 241.6,676.9 241.5,676.8 241.5,676.8 241.4,676.7 241.4,676.7 237.1,669.0 237.1,669.0 237.0,669.0 232.4,664.2 232.4,664.2 232.4,664.2 225.2,662.4 225.1,662.4 214.4,660.6 214.4,660.6 209.3,659.5 209.2,659.5 209.2,659.5 209.1,659.4 209.1,659.4 209.0,659.4 209.0,659.3 208.9,659.3 208.9,659.2 208.9,659.2 207.3,655.9 207.3,655.9 205.0,651.1 205.0,651.1 204.9,651.1 198.4,649.9Z" fill="#B22222"/>
<path d="M205.9,651.6 208.3,656.4 210.0,659.9 215.4,661.1 226.1,662.9 233.3,664.7 238.0,669.5 242.8,677.8 247.6,673.1 253.4,670.7 262.1,666.0 263.7,658.8 266.0,646.2 270.0,636.7 274.8,632.7 275.5,627.2 280.3,625.6 283.5,623.2 286.6,621.6 289.0,625.6 296.1,621.6 302.5,620.8 313.6,624.0 318.0,627.2 327.5,629.5 335.4,629.5 337.0,628.7 339.4,635.9 343.4,635.1 351.3,635.9 356.0,639.8 359.2,641.4 364.8,640.6 367.9,644.6 367.1,652.5 368.7,660.4 371.9,666.0 368.7,669.2 362.4,673.1 367.1,677.1 373.5,683.4 378.2,687.4 381.4,693.7 382.2,701.8 382.5,704.5 381.7,720.3 376.1,728.3 377.7,736.2 371.4,740.9 366.6,748.9 360.3,755.2 360.3,759.9 350.8,767.9 339.7,771.0 327.0,773.4 315.9,773.4 312.8,770.2 308.0,771.8 302.5,769.5 302.5,763.1 305.7,755.2 307.2,747.3 303.3,743.3 304.1,739.3 303.3,731.4 299.3,725.9 291.4,721.9 283.5,714.0 280.3,714.0 279.1,720.8 276.2,727.5 269.6,728.4 272.4,739.8 271.5,744.6 268.6,741.7 262.9,739.8 259.1,742.7 250.6,740.8 246.8,737.9 245.8,731.3 236.3,733.2 234.4,727.5 237.3,723.7 232.5,720.8 234.4,717.0 232.5,713.2 231.6,709.4 226.8,707.5 224.9,705.6 221.4,705.2 223.2,693.3 223.8,683.8 221.4,680.8 217.8,680.2 215.4,677.8 215.4,674.2 212.4,670.7 213.0,667.1 209.5,665.9 207.1,667.1 205.3,664.7 205.9,662.3 203.5,656.4 199.9,654.6 199.3,650.4Z" fill="#FF4500"/>
<path d="M215.4,661.1 226.1,662.9 233.3,664.7 238.0,669.5 242.8,677.8 247.6,673.1 253.4,670.7 262.1,666.0 263.7,658.8 266.0,646.2 270.0,636.7 274.8,632.7 275.5,627.2 280.3,625.6 283.5,623.2 286.6,621.6 289.0,625.6 296.1,621.6 302.5,620.8 313.6,624.0 318.0,627.2 327.5,629.5 335.4,629.5 337.0,628.7 339.4,635.9 343.4,635.1 351.3,635.9 356.0,639.8 359.2,641.4 364.8,640.6 367.9,644.6 367.1,652.5 368.7,660.4 371.9,666.0 368.7,669.2 362.4,673.1 367.1,677.1 373.5,683.4 378.2,687.4 381.4,693.7 382.2,701.8 382.5,704.5 381.7,720.3 376.1,728.3 377.7,736.2 371.4,740.9 366.6,748.9 360.3,755.2 360.3,759.9 350.8,767.9 339.7,771.0 327.0,773.4 315.9,773.4 312.8,770.2 308.0,771.8 302.5,769.5 302.5,763.1 305.7,755.2 307.2,747.3 303.3,743.3 304.1,739.3 303.3,731.4 299.3,725.9 291.4,721.9 283.5,714.0 280.3,714.0 279.1,720.8 276.2,727.5 269.6,728.4 272.4,739.8 271.5,744.6 268.6,741.7 262.9,739.8 259.1,742.7 250.6,740.8 246.8,737.9 245.8,731.3 236.3,733.2 234.4,727.5 237.3,723.7 232.5,720.8 234.4,717.0 232.5,713.2 231.6,709.4 226.8,707.5 224.9,705.6 221.4,705.2 223.2,693.3 223.8,683.8Z" fill="#FF1493"/>
<clipPath id="mclip"><path d="M215.4,661.1 226.1,662.9 233.3,664.7 238.0,669.5 242.8,677.8 247.6,673.1 253.4,670.7 262.1,666.0 263.7,658.8 266.0,646.2 270.0,636.7 274.8,632.7 275.5,627.2 280.3,625.6 283.5,623.2 286.6,621.6 289.0,625.6 296.1,621.6 302.5,620.8 313.6,624.0 318.0,627.2 327.5,629.5 335.4,629.5 337.0,628.7 339.4,635.9 343.4,635.1 351.3,635.9 356.0,639.8 359.2,641.4 364.8,640.6 367.9,644.6 367.1,652.5 368.7,660.4 371.9,666.0 368.7,669.2 362.4,673.1 367.1,677.1 373.5,683.4 378.2,687.4 381.4,693.7 382.2,701.8 382.5,704.5 381.7,720.3 376.1,728.3 377.7,736.2 371.4,740.9 366.6,748.9 360.3,755.2 360.3,759.9 350.8,767.9 339.7,771.0 327.0,773.4 315.9,773.4 312.8,770.2 308.0,771.8 302.5,769.5 302.5,763.1 305.7,755.2 307.2,747.3 303.3,743.3 304.1,739.3 303.3,731.4 299.3,725.9 291.4,721.9 283.5,714.0 280.3,714.0 279.1,720.8 276.2,727.5 269.6,728.4 272.4,739.8 271.5,744.6 268.6,741.7 262.9,739.8 259.1,742.7 250.6,740.8 246.8,737.9 245.8,731.3 236.3,733.2 234.4,727.5 237.3,723.7 232.5,720.8 234.4,717.0 232.5,713.2 231.6,709.4 226.8,707.5 224.9,705.6 221.4,705.2 223.2,693.3 223.8,683.8Z"/></clipPath>
<path d="M215.4,661.1 226.1,662.9 233.3,664.7 238.0,669.5 242.8,677.8 247.6,673.1 253.4,670.7 262.1,666.0 263.7,658.8 266.0,646.2 270.0,636.7 274.8,632.7 275.5,627.2 280.3,625.6 283.5,623.2 286.6,621.6 289.0,625.6 296.1,621.6 302.5,620.8 313.6,624.0 318.0,627.2 327.5,629.5 335.4,629.5 337.0,628.7 339.4,635.9 343.4,635.1 351.3,635.9 356.0,639.8 359.2,641.4 364.8,640.6 367.9,644.6 367.1,652.5 368.7,660.4 371.9,666.0 368.7,669.2 362.4,673.1 367.1,677.1 373.5,683.4 378.2,687.4 381.4,693.7 382.2,701.8 382.5,704.5 381.7,720.3 376.1,728.3 377.7,736.2 371.4,740.9 366.6,748.9 360.3,755.2 360.3,759.9 350.8,767.9 339.7,771.0 327.0,773.4 315.9,773.4 312.8,770.2 308.0,771.8 302.5,769.5 302.5,763.1 305.7,755.2 307.2,747.3 303.3,743.3 304.1,739.3 303.3,731.4 299.3,725.9 291.4,721.9 283.5,714.0 280.3,714.0 279.1,720.8 276.2,727.5 269.6,728.4 272.4,739.8 271.5,744.6 268.6,741.7 262.9,739.8 259.1,742.7 250.6,740.8 246.8,737.9 245.8,731.3 236.3,733.2 234.4,727.5 237.3,723.7 232.5,720.8 234.4,717.0 232.5,713.2 231.6,709.4 226.8,707.5 224.9,705.6 221.4,705.2 223.2,693.3 223.8,683.8Z" fill="none" stroke="#FFB6C1" stroke-width="4" clip-path="url(#mclip)" stroke-linejoin="round"/>
<path d="M260.0,741.7 262.4,740.1 267.1,740.1 270.3,740.1 271.9,736.1 270.3,728.2 279.0,722.7 279.8,714.8 280.6,713.6 285.4,715.5 290.9,722.7 297.2,725.8 302.8,733.8 304.4,741.7 306.8,749.6 305.2,759.1 302.8,766.5 291.7,763.8 283.8,759.1 275.8,754.5 260.0,751.2Z" fill="#DEB887" />
<path d="M260.0,741.7 267.1,740.1 270.3,740.1 271.9,744.1 280.6,713.6 285.4,715.5 290.9,722.7 297.2,725.8 302.8,733.8 304.4,741.7 306.8,749.6 305.2,759.1 302.8,763.9 299.6,764.7 291.7,761.5 283.8,756.8 275.8,752.0 267.9,749.6 260.0,748.8Z" fill="#FFD700" />
<path d="M280.6,713.6 285.4,715.5 290.9,722.7 297.2,725.8 302.8,733.8 304.4,741.7 306.8,749.6 304.0,756.0 301.2,759.1 294.1,757.5 285.4,754.4 283.8,749.6 279.8,748.0Z" fill="#FFA500" />
<path d="M280.6,713.6 285.4,715.5 290.9,722.7 297.2,725.8 302.8,733.8 304.4,741.7 306.8,749.6 302.0,753.0 297.2,752.8 290.1,751.2 285.4,748.8 279.8,748.0Z" fill="#FF4500" />
<path d="M280.6,713.6 285.4,715.5 290.9,722.7 297.2,725.8 302.8,733.8 302.0,741.7 300.4,741.7 298.8,736.1 294.9,733.0 291.7,740.1 286.1,741.7 279.8,744.0Z" fill="#FF1493" />
<path d="M294.5,725.0 298.0,728.0 297.0,736.0 294.9,733.0 292.0,735.0Z" fill="#FFB6C1" />
<path d="M286.1,741.7 291.7,740.1 294.9,733.0 298.8,736.1 300.4,743.3 294.1,746.5 286.9,744.9Z" fill="#B22222" />
<path d="M280.6,714.8 285.4,716.3 290.1,721.9 290.1,741.7 285.4,748.0 279.8,748.0 272.7,744.1 271.9,736.1 270.3,728.2 275.8,725.8 279.8,717.9Z" fill="#FFFFFF" />
<path d="M279.0,738.5 282.0,738.0 282.5,748.0 279.5,748.0Z" fill="#FF4500" />
<path d="M291.0,664.0 292.5,657.7 305.2,657.7 310.0,664.0 311.6,676.7 316.3,686.2 323.5,690.0 313.2,690.0 309.0,693.0 300.0,690.0 291.0,680.0Z" fill="#FFB6C1" />
<path d="M316.3,686.2 322.7,687.8 333.7,694.1 345.0,692.5 345.0,694.8 330.7,694.5 323.5,691.0Z" fill="#FFB6C1" />
<path d="M307.0,688.0 313.2,690.0 318.8,697.1 328.3,704.3 334.6,709.8 339.4,714.6 345.0,715.4 345.0,725.7 339.4,725.7 333.8,728.0 333.0,736.8 325.1,737.5 315.6,729.6 309.3,721.7 308.5,716.9 311.6,711.4 309.3,704.3 303.0,697.0Z" fill="#FFB6C1" />
<ellipse cx="315.8" cy="726" rx="0.9" ry="0.6" fill="#B22222"/>
<path d="M321.1,673.5 327.4,664.0 335.0,659.5 341.3,659.5 349.3,669.0 350.8,675.4 344.5,686.5 341.3,692.8 333.7,694.1 322.7,687.8 319.5,679.9Z" fill="#FFB6C1" />
<path d="M329.0,675.1 336.9,667.2 341.0,664.0 346.0,670.0 345.0,680.0 340.1,687.8 330.6,681.5Z" fill="#B22222" />
<path d="M333.7,675.1 340.1,671.1 341.7,676.7 340.1,683.0 335.3,680.7Z" fill="#FF4500" />
<path d="M335.0,710.2 344.5,713.4 355.6,713.4 361.9,708.6 365.1,711.8 358.8,719.7 355.6,727.7 344.5,724.5 335.0,721.3Z" fill="#FFB6C1" />
<path d="M319.5,645.0 333.7,645.0 332.0,652.9 322.0,650.0Z" fill="#FFB6C1" />
<path d="M321.1,642.2 327.4,640.6 332.2,651.7 324.2,650.1Z" fill="#FFB6C1" />
<path d="M302.5,766.8 315.2,770.6 325.3,773.1 338.0,770.6 353.2,766.8 360.8,757.9 367.2,751.5 376.0,741.4 380.0,735.1 376.0,736.3 368.4,746.5 358.3,755.3 350.7,760.4 336.8,760.4 330.4,757.9 325.3,761.7 307.6,766.8Z" fill="#FFB6C1" />
<circle cx="290.5" cy="698.1" r="18.6" fill="#fff"/>
<path d="M202.9,638.5 204.0,641.4 204.7,644.4 205.6,646.7 205.3,649.2 205.9,651.6 207.6,653.7 208.3,656.4 210.0,659.9 212.7,660.5 215.4,661.1 218.1,661.4 220.9,661.4 223.4,662.5 226.1,662.9 228.7,662.9 230.9,664.0 233.3,664.7 235.3,665.9 236.8,667.5 238.0,669.5 239.3,671.5 240.0,673.9 242.1,675.5 242.8,677.8 244.1,676.0 246.1,674.8 247.6,673.1 250.7,672.5 253.4,670.7 255.6,669.6 257.7,668.2 260.2,667.8 262.1,666.0 262.0,663.5 263.7,661.3 263.7,658.8 263.9,656.2 264.1,653.7 264.6,651.1 265.3,648.7 266.0,646.2 267.4,644.0 267.6,641.3 269.1,639.1 270.0,636.7 272.5,634.8 274.8,632.7 275.0,629.9 275.5,627.2 277.9,626.5 280.3,625.6 283.5,623.2 286.6,621.6 288.3,623.3 289.0,625.6 291.1,623.7 293.5,622.6 296.1,621.6 299.3,621.5 302.5,620.8 304.7,621.3 307.0,621.8 309.1,622.8 311.4,623.3 313.6,624.0 316.0,625.4 318.0,627.2 320.3,628.2 322.7,628.6 325.2,628.6 327.5,629.5 330.1,629.6 332.8,629.5 335.4,629.5 337.0,628.7 337.3,631.3 338.3,633.6 339.4,635.9 343.4,635.1 346.1,635.1 348.6,636.3 351.3,635.9 354.0,637.4 356.0,639.8 359.2,641.4 362.0,640.9 364.8,640.6 366.1,642.8 367.9,644.6 368.1,647.3 367.4,649.9 367.1,652.5 368.3,655.0 367.9,657.8 368.7,660.4 370.0,663.4 371.9,666.0 370.2,667.5 368.7,669.2 366.3,670.1 364.6,672.0 362.4,673.1 364.6,675.3 367.1,677.1 368.6,678.8 370.2,680.3 371.9,681.8 373.5,683.4 375.5,685.8 378.2,687.4 378.7,689.8 380.4,691.6 381.4,693.7 381.4,696.4 382.5,699.0 382.2,701.8 382.5,704.5 382.1,706.7 382.1,709.0 381.5,711.2 381.6,713.5 382.2,715.8 382.0,718.1 381.7,720.3 380.1,722.2 379.4,724.7 377.5,726.3 376.1,728.3 377.1,730.8 377.7,733.5 377.7,736.2 376.0,738.3 373.3,739.0 371.4,740.9 370.6,743.2 369.3,745.1 367.9,747.0 366.6,748.9 364.7,750.1 363.9,752.5 361.9,753.7 360.3,755.2 360.2,757.5 360.3,759.9 358.1,761.1 356.2,762.8 354.3,764.3 352.9,766.5 350.8,767.9 348.6,768.6 346.4,769.3 344.0,769.2 341.7,769.8 339.7,771.0 337.3,772.0 334.7,772.4 332.1,772.8 329.6,773.3 327.0,773.4 324.8,773.4 322.6,773.3 320.3,773.7 318.1,774.1 315.9,773.4 314.3,771.9 312.8,770.2 310.5,771.2 308.0,771.8 305.3,770.6 302.5,769.5 303.1,766.3 302.5,763.1 303.8,760.6 304.7,757.8 305.7,755.2 306.4,752.6 306.9,750.0 307.2,747.3 304.8,745.7 303.3,743.3 304.1,739.3 304.4,736.6 304.0,734.0 303.3,731.4 302.4,729.3 301.0,727.5 299.3,725.9 297.3,725.0 295.3,724.0 293.1,723.4 291.4,721.9 290.0,720.2 287.8,719.2 286.2,717.6 284.8,715.9 283.5,714.0 280.3,714.0 280.4,716.3 279.7,718.6 279.1,720.8 278.7,723.3 277.8,725.5 276.2,727.5 274.1,728.3 271.9,728.7 269.6,728.4 270.3,730.6 271.4,732.8 270.8,735.4 271.7,737.6 272.4,739.8 272.4,742.3 271.5,744.6 268.6,741.7 265.6,741.1 262.9,739.8 261.1,741.4 259.1,742.7 256.2,742.3 253.3,741.9 250.6,740.8 249.0,739.0 246.8,737.9 247.1,735.6 246.1,733.5 245.8,731.3 243.4,731.8 241.2,732.8 238.8,733.3 236.3,733.2 235.1,730.4 234.4,727.5 235.6,725.4 237.3,723.7 235.1,721.9 232.5,720.8 234.4,717.0 232.5,713.2 231.6,709.4 229.0,708.9 226.8,707.5 224.9,705.6 221.4,705.2 221.1,702.7 222.7,700.5 222.5,698.1 222.4,695.6 223.2,693.3 223.4,690.9 222.8,688.5 223.7,686.2 223.8,683.8 221.4,680.8 217.8,680.2 215.4,677.8 215.4,674.2 214.4,672.0 212.4,670.7 213.0,667.1 209.5,665.9 207.1,667.1 205.3,664.7 205.9,662.3 205.2,659.2 203.5,656.4 199.9,654.6 199.3,650.4 199.9,648.0 199.9,645.6 199.9,642.6 200.5,639.7Z" fill="none" stroke="#000" stroke-width="1.1" stroke-linejoin="round"/>
<path d="M213.0,670.7 L225.0,671.9 L226.1,677.8 L221.4,680.8" fill="none" stroke="#000" stroke-width="1"/>
<path d="M195.2,639.1 L196.9,646.2" fill="none" stroke="#000" stroke-width="1.4"/>
<ellipse cx="206.4" cy="616.1" rx="1.3" ry="0.8" fill="#000"/>
<path d="M162.8,641.8 L161.3,645.8 L163.2,647.1 L160.8,648.8 L159.3,652.3" fill="none" stroke="#000" stroke-width="0.9"/>
<line x1="290.6" y1="555" x2="290.6" y2="745" stroke="#fff" stroke-opacity="0.45" stroke-width="0.8"/>
</g>
<circle cx="290.3" cy="698.2" r="139.6" fill="none" stroke="#222" stroke-width="1"/>
<text x="265.9" y="20.0" font-size="28" font-family="Liberation Sans" font-weight="bold" text-anchor="start" fill="#000" style="white-space:pre" textLength="49" lengthAdjust="spacingAndGlyphs">DJF</text><text x="63.7" y="46.0" font-size="16" font-family="Liberation Sans" font-weight="bold" text-anchor="start" fill="#000" style="white-space:pre" textLength="155.5" lengthAdjust="spacingAndGlyphs">b01.01ibis (yrs 50-74)</text><text x="411.8" y="47.0" font-size="16" font-family="Liberation Sans" font-weight="bold" text-anchor="start" fill="#000" style="white-space:pre" textLength="53.6" lengthAdjust="spacingAndGlyphs">CERES</text><text x="2.7" y="87.3" font-size="14.4" font-family="Liberation Sans" font-weight="bold" text-anchor="start" fill="#000" style="white-space:pre" textLength="162.6" lengthAdjust="spacingAndGlyphs">TOA clearsky upward LW</text><text x="196.3" y="89.9" font-size="14.4" font-family="Liberation Sans" font-weight="bold" text-anchor="start" fill="#000" style="white-space:pre" textLength="86.2" lengthAdjust="spacingAndGlyphs">W/m~S~2~N~</text><text x="298.8" y="87.3" font-size="14.4" font-family="Liberation Sans" font-weight="bold" text-anchor="start" fill="#000" style="white-space:pre" textLength="164" lengthAdjust="spacingAndGlyphs">TOA clearsky upward LW</text><text x="492.4" y="89.9" font-size="14.4" font-family="Liberation Sans" font-weight="bold" text-anchor="start" fill="#000" style="white-space:pre" textLength="86.5" lengthAdjust="spacingAndGlyphs">W/m~S~2~N~</text><text x="218.9" y="498.2" font-size="16" font-family="Liberation Sans" font-weight="bold" text-anchor="start" fill="#000" style="white-space:pre" textLength="142.8" lengthAdjust="spacingAndGlyphs">b01.01ibis - CERES</text><text x="150.5" y="539.7" font-size="14.4" font-family="Liberation Sans" font-weight="bold" text-anchor="start" fill="#000" style="white-space:pre" textLength="164.5" lengthAdjust="spacingAndGlyphs">TOA clearsky upward LW</text><text x="344.5" y="542.3" font-size="14.4" font-family="Liberation Sans" font-weight="bold" text-anchor="start" fill="#000" style="white-space:pre" textLength="84" lengthAdjust="spacingAndGlyphs">W/m~S~2~N~</text><rect x="6.20" y="426.1" width="17.00" height="13.4" fill="#9370DB" stroke="#222" stroke-width="0.8"/><rect x="23.20" y="426.1" width="17.00" height="13.4" fill="#0000CD" stroke="#222" stroke-width="0.8"/><rect x="40.20" y="426.1" width="17.00" height="13.4" fill="#4169E1" stroke="#222" stroke-width="0.8"/><rect x="57.20" y="426.1" width="17.00" height="13.4" fill="#789BF2" stroke="#222" stroke-width="0.8"/><rect x="74.20" y="426.1" width="17.00" height="13.4" fill="#B0E0E6" stroke="#222" stroke-width="0.8"/><rect x="91.20" y="426.1" width="17.00" height="13.4" fill="#20B2AA" stroke="#222" stroke-width="0.8"/><rect x="108.20" y="426.1" width="17.00" height="13.4" fill="#BCEE68" stroke="#222" stroke-width="0.8"/><rect x="125.20" y="426.1" width="17.00" height="13.4" fill="#9ABB32" stroke="#222" stroke-width="0.8"/><rect x="142.20" y="426.1" width="17.00" height="13.4" fill="#F5DEB3" stroke="#222" stroke-width="0.8"/><rect x="159.20" y="426.1" width="17.00" height="13.4" fill="#DEB887" stroke="#222" stroke-width="0.8"/><rect x="176.20" y="426.1" width="17.00" height="13.4" fill="#FFD700" stroke="#222" stroke-width="0.8"/><rect x="193.20" y="426.1" width="17.00" height="13.4" fill="#FFA500" stroke="#222" stroke-width="0.8"/><rect x="210.20" y="426.1" width="17.00" height="13.4" fill="#FF4500" stroke="#222" stroke-width="0.8"/><rect x="227.20" y="426.1" width="17.00" height="13.4" fill="#B22222" stroke="#222" stroke-width="0.8"/><rect x="244.20" y="426.1" width="17.00" height="13.4" fill="#FFB6C1" stroke="#222" stroke-width="0.8"/><rect x="261.20" y="426.1" width="17.00" height="13.4" fill="#FF1493" stroke="#222" stroke-width="0.8"/><text x="23.2" y="455.3" font-size="11.8" font-family="Liberation Serif" text-anchor="middle" fill="#000" style="white-space:pre" textLength="20.2" lengthAdjust="spacingAndGlyphs">150</text><text x="57.2" y="455.3" font-size="11.8" font-family="Liberation Serif" text-anchor="middle" fill="#000" style="white-space:pre" textLength="20.2" lengthAdjust="spacingAndGlyphs">170</text><text x="91.2" y="455.3" font-size="11.8" font-family="Liberation Serif" text-anchor="middle" fill="#000" style="white-space:pre" textLength="20.2" lengthAdjust="spacingAndGlyphs">190</text><text x="125.2" y="455.3" font-size="11.8" font-family="Liberation Serif" text-anchor="middle" fill="#000" style="white-space:pre" textLength="20.2" lengthAdjust="spacingAndGlyphs">210</text><text x="159.2" y="455.3" font-size="11.8" font-family="Liberation Serif" text-anchor="middle" fill="#000" style="white-space:pre" textLength="20.2" lengthAdjust="spacingAndGlyphs">230</text><text x="193.2" y="455.3" font-size="11.8" font-family="Liberation Serif" text-anchor="middle" fill="#000" style="white-space:pre" textLength="20.2" lengthAdjust="spacingAndGlyphs">250</text><text x="227.2" y="455.3" font-size="11.8" font-family="Liberation Serif" text-anchor="middle" fill="#000" style="white-space:pre" textLength="20.2" lengthAdjust="spacingAndGlyphs">270</text><text x="261.2" y="455.3" font-size="11.8" font-family="Liberation Serif" text-anchor="middle" fill="#000" style="white-space:pre" textLength="20.2" lengthAdjust="spacingAndGlyphs">290</text><rect x="302.80" y="426.1" width="17.00" height="13.4" fill="#9370DB" stroke="#222" stroke-width="0.8"/><rect x="319.80" y="426.1" width="17.00" height="13.4" fill="#0000CD" stroke="#222" stroke-width="0.8"/><rect x="336.80" y="426.1" width="17.00" height="13.4" fill="#4169E1" stroke="#222" stroke-width="0.8"/><rect x="353.80" y="426.1" width="17.00" height="13.4" fill="#789BF2" stroke="#222" stroke-width="0.8"/><rect x="370.80" y="426.1" width="17.00" height="13.4" fill="#B0E0E6" stroke="#222" stroke-width="0.8"/><rect x="387.80" y="426.1" width="17.00" height="13.4" fill="#20B2AA" stroke="#222" stroke-width="0.8"/><rect x="404.80" y="426.1" width="17.00" height="13.4" fill="#BCEE68" stroke="#222" stroke-width="0.8"/><rect x="421.80" y="426.1" width="17.00" height="13.4" fill="#9ABB32" stroke="#222" stroke-width="0.8"/><rect x="438.80" y="426.1" width="17.00" height="13.4" fill="#F5DEB3" stroke="#222" stroke-width="0.8"/><rect x="455.80" y="426.1" width="17.00" height="13.4" fill="#DEB887" stroke="#222" stroke-width="0.8"/><rect x="472.80" y="426.1" width="17.00" height="13.4" fill="#FFD700" stroke="#222" stroke-width="0.8"/><rect x="489.80" y="426.1" width="17.00" height="13.4" fill="#FFA500" stroke="#222" stroke-width="0.8"/><rect x="506.80" y="426.1" width="17.00" height="13.4" fill="#FF4500" stroke="#222" stroke-width="0.8"/><rect x="523.80" y="426.1" width="17.00" height="13.4" fill="#B22222" stroke="#222" stroke-width="0.8"/><rect x="540.80" y="426.1" width="17.00" height="13.4" fill="#FFB6C1" stroke="#222" stroke-width="0.8"/><rect x="557.80" y="426.1" width="17.00" height="13.4" fill="#FF1493" stroke="#222" stroke-width="0.8"/><text x="319.8" y="455.3" font-size="11.8" font-family="Liberation Serif" text-anchor="middle" fill="#000" style="white-space:pre" textLength="20.2" lengthAdjust="spacingAndGlyphs">150</text><text x="353.8" y="455.3" font-size="11.8" font-family="Liberation Serif" text-anchor="middle" fill="#000" style="white-space:pre" textLength="20.2" lengthAdjust="spacingAndGlyphs">170</text><text x="387.8" y="455.3" font-size="11.8" font-family="Liberation Serif" text-anchor="middle" fill="#000" style="white-space:pre" textLength="20.2" lengthAdjust="spacingAndGlyphs">190</text><text x="421.8" y="455.3" font-size="11.8" font-family="Liberation Serif" text-anchor="middle" fill="#000" style="white-space:pre" textLength="20.2" lengthAdjust="spacingAndGlyphs">210</text><text x="455.8" y="455.3" font-size="11.8" font-family="Liberation Serif" text-anchor="middle" fill="#000" style="white-space:pre" textLength="20.2" lengthAdjust="spacingAndGlyphs">230</text><text x="489.8" y="455.3" font-size="11.8" font-family="Liberation Serif" text-anchor="middle" fill="#000" style="white-space:pre" textLength="20.2" lengthAdjust="spacingAndGlyphs">250</text><text x="523.8" y="455.3" font-size="11.8" font-family="Liberation Serif" text-anchor="middle" fill="#000" style="white-space:pre" textLength="20.2" lengthAdjust="spacingAndGlyphs">270</text><text x="557.8" y="455.3" font-size="11.8" font-family="Liberation Serif" text-anchor="middle" fill="#000" style="white-space:pre" textLength="20.2" lengthAdjust="spacingAndGlyphs">290</text><text x="1.2" y="417.1" font-size="12.7" font-family="Liberation Serif" text-anchor="start" fill="#000" style="white-space:pre" textLength="42.8" lengthAdjust="spacingAndGlyphs">MEAN=</text><text x="51.1" y="417.1" font-size="12.7" font-family="Liberation Serif" text-anchor="start" fill="#000" style="white-space:pre" textLength="41.6" lengthAdjust="spacingAndGlyphs">232.59</text><text x="107" y="417.1" font-size="12.7" font-family="Liberation Serif" text-anchor="start" fill="#000" style="white-space:pre" textLength="30.9" lengthAdjust="spacingAndGlyphs">Min=</text><text x="145" y="417.1" font-size="12.7" font-family="Liberation Serif" text-anchor="start" fill="#000" style="white-space:pre" textLength="41.8" lengthAdjust="spacingAndGlyphs">191.19</text><text x="201.1" y="417.1" font-size="12.7" font-family="Liberation Serif" text-anchor="start" fill="#000" style="white-space:pre" textLength="33.3" lengthAdjust="spacingAndGlyphs">Max=</text><text x="241.5" y="417.1" font-size="12.7" font-family="Liberation Serif" text-anchor="start" fill="#000" style="white-space:pre" textLength="42.3" lengthAdjust="spacingAndGlyphs">255.69</text><text x="297.1" y="417.1" font-size="12.7" font-family="Liberation Serif" text-anchor="start" fill="#000" style="white-space:pre" textLength="42.8" lengthAdjust="spacingAndGlyphs">MEAN=</text><text x="348.2" y="417.1" font-size="12.7" font-family="Liberation Serif" text-anchor="start" fill="#000" style="white-space:pre" textLength="40.4" lengthAdjust="spacingAndGlyphs">225.41</text><text x="402.9" y="417.1" font-size="12.7" font-family="Liberation Serif" text-anchor="start" fill="#000" style="white-space:pre" textLength="30.9" lengthAdjust="spacingAndGlyphs">Min=</text><text x="442.4" y="417.1" font-size="12.7" font-family="Liberation Serif" text-anchor="start" fill="#000" style="white-space:pre" textLength="41.6" lengthAdjust="spacingAndGlyphs">163.73</text><text x="497" y="417.1" font-size="12.7" font-family="Liberation Serif" text-anchor="start" fill="#000" style="white-space:pre" textLength="33.3" lengthAdjust="spacingAndGlyphs">Max=</text><text x="538.6" y="417.1" font-size="12.7" font-family="Liberation Serif" text-anchor="start" fill="#000" style="white-space:pre" textLength="41.6" lengthAdjust="spacingAndGlyphs">251.88</text><text x="447.1" y="586.2" font-size="12.7" font-family="Liberation Serif" text-anchor="start" fill="#000" style="white-space:pre" textLength="20.9" lengthAdjust="spacingAndGlyphs">MIN</text><text x="475.5" y="586.2" font-size="12.7" font-family="Liberation Serif" text-anchor="start" fill="#000" style="white-space:pre" textLength="9.0" lengthAdjust="spacingAndGlyphs">=</text><text x="491.5" y="586.2" font-size="12.7" font-family="Liberation Serif" text-anchor="start" fill="#000" style="white-space:pre" textLength="44.4" lengthAdjust="spacingAndGlyphs">−10.35</text><text x="543.6" y="586.2" font-size="12.7" font-family="Liberation Serif" text-anchor="start" fill="#000" style="white-space:pre" textLength="25.4" lengthAdjust="spacingAndGlyphs">MAX</text><text x="575.5" y="586.2" font-size="12.7" font-family="Liberation Serif" text-anchor="start" fill="#000" style="white-space:pre" textLength="7.8" lengthAdjust="spacingAndGlyphs">=</text><text x="597.4" y="586.2" font-size="12.7" font-family="Liberation Serif" text-anchor="start" fill="#000" style="white-space:pre" textLength="32.6" lengthAdjust="spacingAndGlyphs">54.03</text><rect x="509" y="610.50" width="33" height="14.07" fill="#FF1493" stroke="#222" stroke-width="0.8"/><rect x="509" y="624.57" width="33" height="14.07" fill="#FFB6C1" stroke="#222" stroke-width="0.8"/><rect x="509" y="638.64" width="33" height="14.07" fill="#B22222" stroke="#222" stroke-width="0.8"/><rect x="509" y="652.71" width="33" height="14.07" fill="#FF4500" stroke="#222" stroke-width="0.8"/><rect x="509" y="666.78" width="33" height="14.07" fill="#FFA500" stroke="#222" stroke-width="0.8"/><rect x="509" y="680.85" width="33" height="14.07" fill="#FFD700" stroke="#222" stroke-width="0.8"/><rect x="509" y="694.92" width="33" height="14.07" fill="#DEB887" stroke="#222" stroke-width="0.8"/><rect x="509" y="708.99" width="33" height="14.07" fill="#F5DEB3" stroke="#222" stroke-width="0.8"/><rect x="509" y="723.06" width="33" height="14.07" fill="#9ABB32" stroke="#222" stroke-width="0.8"/><rect x="509" y="737.13" width="33" height="14.07" fill="#BCEE68" stroke="#222" stroke-width="0.8"/><rect x="509" y="751.20" width="33" height="14.07" fill="#20B2AA" stroke="#222" stroke-width="0.8"/><rect x="509" y="765.27" width="33" height="14.07" fill="#B0E0E6" stroke="#222" stroke-width="0.8"/><rect x="509" y="779.34" width="33" height="14.07" fill="#789BF2" stroke="#222" stroke-width="0.8"/><rect x="509" y="793.41" width="33" height="14.07" fill="#4169E1" stroke="#222" stroke-width="0.8"/><rect x="509" y="807.48" width="33" height="14.07" fill="#0000CD" stroke="#222" stroke-width="0.8"/><rect x="509" y="821.55" width="33" height="14.07" fill="#9370DB" stroke="#222" stroke-width="0.8"/><text x="558" y="629.17" font-size="11.5" font-family="Liberation Serif" text-anchor="middle" fill="#000" style="white-space:pre" textLength="13.5" lengthAdjust="spacingAndGlyphs">25</text><text x="558" y="643.24" font-size="11.5" font-family="Liberation Serif" text-anchor="middle" fill="#000" style="white-space:pre" textLength="13.5" lengthAdjust="spacingAndGlyphs">20</text><text x="558" y="657.31" font-size="11.5" font-family="Liberation Serif" text-anchor="middle" fill="#000" style="white-space:pre" textLength="13.5" lengthAdjust="spacingAndGlyphs">15</text><text x="558" y="671.38" font-size="11.5" font-family="Liberation Serif" text-anchor="middle" fill="#000" style="white-space:pre" textLength="13.5" lengthAdjust="spacingAndGlyphs">10</text><text x="558" y="685.45" font-size="11.5" font-family="Liberation Serif" text-anchor="middle" fill="#000" style="white-space:pre" textLength="6.3" lengthAdjust="spacingAndGlyphs">7</text><text x="558" y="699.52" font-size="11.5" font-family="Liberation Serif" text-anchor="middle" fill="#000" style="white-space:pre" textLength="6.3" lengthAdjust="spacingAndGlyphs">5</text><text x="558" y="713.59" font-size="11.5" font-family="Liberation Serif" text-anchor="middle" fill="#000" style="white-space:pre" textLength="6.3" lengthAdjust="spacingAndGlyphs">3</text><text x="558" y="727.66" font-size="11.5" font-family="Liberation Serif" text-anchor="middle" fill="#000" style="white-space:pre" textLength="6.3" lengthAdjust="spacingAndGlyphs">0</text><text x="558" y="741.73" font-size="11.5" font-family="Liberation Serif" text-anchor="middle" fill="#000" style="white-space:pre" textLength="15.5" lengthAdjust="spacingAndGlyphs">−3</text><text x="558" y="755.8" font-size="11.5" font-family="Liberation Serif" text-anchor="middle" fill="#000" style="white-space:pre" textLength="15.5" lengthAdjust="spacingAndGlyphs">−5</text><text x="558" y="769.87" font-size="11.5" font-family="Liberation Serif" text-anchor="middle" fill="#000" style="white-space:pre" textLength="15.5" lengthAdjust="spacingAndGlyphs">−7</text><text x="558" y="783.94" font-size="11.5" font-family="Liberation Serif" text-anchor="middle" fill="#000" style="white-space:pre" textLength="22.5" lengthAdjust="spacingAndGlyphs">−10</text><text x="558" y="798.01" font-size="11.5" font-family="Liberation Serif" text-anchor="middle" textLength="22.5" lengthAdjust="spacingAndGlyphs"><tspan fill="#999">−</tspan><tspan fill="#000">15</tspan></text><text x="558" y="812.08" font-size="11.5" font-family="Liberation Serif" text-anchor="middle" textLength="22.5" lengthAdjust="spacingAndGlyphs"><tspan fill="#999">−</tspan><tspan fill="#000">20</tspan></text><text x="558" y="826.15" font-size="11.5" font-family="Liberation Serif" text-anchor="middle" textLength="22.5" lengthAdjust="spacingAndGlyphs"><tspan fill="#999">−</tspan><tspan fill="#000">25</tspan></text>
</svg></body></html>
